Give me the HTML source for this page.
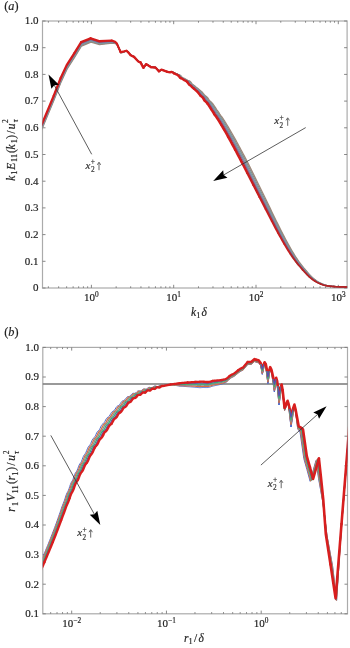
<!DOCTYPE html>
<html><head><meta charset="utf-8"><style>
html,body{margin:0;padding:0;background:#fff;width:350px;height:648px;overflow:hidden}
svg{display:block;will-change:transform}
text{stroke:#1e1e1e;stroke-width:0.18px;paint-order:stroke}
</style></head><body>
<svg width="350" height="648" viewBox="0 0 350 648">
<rect width="350" height="648" fill="#fff"/>
<defs><clipPath id="ca"><rect x="42.5" y="21.0" width="304.6" height="267.0"/></clipPath><clipPath id="cb"><rect x="42.8" y="347.4" width="304.7" height="266.4"/></clipPath></defs>
<rect x="42.50" y="21.00" width="304.60" height="267.00" fill="none" stroke="#ababab" stroke-width="1.2"/>
<path d="M42.50,288.00h3M347.10,288.00h-3" stroke="#7a7a7a" stroke-width="0.9"/>
<path d="M42.50,261.30h3M347.10,261.30h-3" stroke="#7a7a7a" stroke-width="0.9"/>
<path d="M42.50,234.60h3M347.10,234.60h-3" stroke="#7a7a7a" stroke-width="0.9"/>
<path d="M42.50,207.90h3M347.10,207.90h-3" stroke="#7a7a7a" stroke-width="0.9"/>
<path d="M42.50,181.20h3M347.10,181.20h-3" stroke="#7a7a7a" stroke-width="0.9"/>
<path d="M42.50,154.50h3M347.10,154.50h-3" stroke="#7a7a7a" stroke-width="0.9"/>
<path d="M42.50,127.80h3M347.10,127.80h-3" stroke="#7a7a7a" stroke-width="0.9"/>
<path d="M42.50,101.10h3M347.10,101.10h-3" stroke="#7a7a7a" stroke-width="0.9"/>
<path d="M42.50,74.40h3M347.10,74.40h-3" stroke="#7a7a7a" stroke-width="0.9"/>
<path d="M42.50,47.70h3M347.10,47.70h-3" stroke="#7a7a7a" stroke-width="0.9"/>
<path d="M42.50,21.00h3M347.10,21.00h-3" stroke="#7a7a7a" stroke-width="0.9"/>
<path d="M48.37,288.00v-1.7M48.37,21.00v1.7" stroke="#7a7a7a" stroke-width="0.9"/>
<path d="M58.65,288.00v-1.7M58.65,21.00v1.7" stroke="#7a7a7a" stroke-width="0.9"/>
<path d="M66.63,288.00v-1.7M66.63,21.00v1.7" stroke="#7a7a7a" stroke-width="0.9"/>
<path d="M73.14,288.00v-1.7M73.14,21.00v1.7" stroke="#7a7a7a" stroke-width="0.9"/>
<path d="M78.65,288.00v-1.7M78.65,21.00v1.7" stroke="#7a7a7a" stroke-width="0.9"/>
<path d="M83.42,288.00v-1.7M83.42,21.00v1.7" stroke="#7a7a7a" stroke-width="0.9"/>
<path d="M87.63,288.00v-1.7M87.63,21.00v1.7" stroke="#7a7a7a" stroke-width="0.9"/>
<path d="M91.40,288.00v-3.2M91.40,21.00v3.2" stroke="#7a7a7a" stroke-width="0.9"/>
<path d="M116.17,288.00v-1.7M116.17,21.00v1.7" stroke="#7a7a7a" stroke-width="0.9"/>
<path d="M130.67,288.00v-1.7M130.67,21.00v1.7" stroke="#7a7a7a" stroke-width="0.9"/>
<path d="M140.95,288.00v-1.7M140.95,21.00v1.7" stroke="#7a7a7a" stroke-width="0.9"/>
<path d="M148.93,288.00v-1.7M148.93,21.00v1.7" stroke="#7a7a7a" stroke-width="0.9"/>
<path d="M155.44,288.00v-1.7M155.44,21.00v1.7" stroke="#7a7a7a" stroke-width="0.9"/>
<path d="M160.95,288.00v-1.7M160.95,21.00v1.7" stroke="#7a7a7a" stroke-width="0.9"/>
<path d="M165.72,288.00v-1.7M165.72,21.00v1.7" stroke="#7a7a7a" stroke-width="0.9"/>
<path d="M169.93,288.00v-1.7M169.93,21.00v1.7" stroke="#7a7a7a" stroke-width="0.9"/>
<path d="M173.70,288.00v-3.2M173.70,21.00v3.2" stroke="#7a7a7a" stroke-width="0.9"/>
<path d="M198.47,288.00v-1.7M198.47,21.00v1.7" stroke="#7a7a7a" stroke-width="0.9"/>
<path d="M212.97,288.00v-1.7M212.97,21.00v1.7" stroke="#7a7a7a" stroke-width="0.9"/>
<path d="M223.25,288.00v-1.7M223.25,21.00v1.7" stroke="#7a7a7a" stroke-width="0.9"/>
<path d="M231.23,288.00v-1.7M231.23,21.00v1.7" stroke="#7a7a7a" stroke-width="0.9"/>
<path d="M237.74,288.00v-1.7M237.74,21.00v1.7" stroke="#7a7a7a" stroke-width="0.9"/>
<path d="M243.25,288.00v-1.7M243.25,21.00v1.7" stroke="#7a7a7a" stroke-width="0.9"/>
<path d="M248.02,288.00v-1.7M248.02,21.00v1.7" stroke="#7a7a7a" stroke-width="0.9"/>
<path d="M252.23,288.00v-1.7M252.23,21.00v1.7" stroke="#7a7a7a" stroke-width="0.9"/>
<path d="M256.00,288.00v-3.2M256.00,21.00v3.2" stroke="#7a7a7a" stroke-width="0.9"/>
<path d="M280.77,288.00v-1.7M280.77,21.00v1.7" stroke="#7a7a7a" stroke-width="0.9"/>
<path d="M295.27,288.00v-1.7M295.27,21.00v1.7" stroke="#7a7a7a" stroke-width="0.9"/>
<path d="M305.55,288.00v-1.7M305.55,21.00v1.7" stroke="#7a7a7a" stroke-width="0.9"/>
<path d="M313.53,288.00v-1.7M313.53,21.00v1.7" stroke="#7a7a7a" stroke-width="0.9"/>
<path d="M320.04,288.00v-1.7M320.04,21.00v1.7" stroke="#7a7a7a" stroke-width="0.9"/>
<path d="M325.55,288.00v-1.7M325.55,21.00v1.7" stroke="#7a7a7a" stroke-width="0.9"/>
<path d="M330.32,288.00v-1.7M330.32,21.00v1.7" stroke="#7a7a7a" stroke-width="0.9"/>
<path d="M334.53,288.00v-1.7M334.53,21.00v1.7" stroke="#7a7a7a" stroke-width="0.9"/>
<path d="M338.30,288.00v-3.2M338.30,21.00v3.2" stroke="#7a7a7a" stroke-width="0.9"/>
<text x="38.60" y="291.30" font-size="11" fill="#1e1e1e" text-anchor="end" style="font-family:'Liberation Serif',serif;">0</text>
<text x="38.60" y="264.60" font-size="11" fill="#1e1e1e" text-anchor="end" style="font-family:'Liberation Serif',serif;">0.1</text>
<text x="38.60" y="237.90" font-size="11" fill="#1e1e1e" text-anchor="end" style="font-family:'Liberation Serif',serif;">0.2</text>
<text x="38.60" y="211.20" font-size="11" fill="#1e1e1e" text-anchor="end" style="font-family:'Liberation Serif',serif;">0.3</text>
<text x="38.60" y="184.50" font-size="11" fill="#1e1e1e" text-anchor="end" style="font-family:'Liberation Serif',serif;">0.4</text>
<text x="38.60" y="157.80" font-size="11" fill="#1e1e1e" text-anchor="end" style="font-family:'Liberation Serif',serif;">0.5</text>
<text x="38.60" y="131.10" font-size="11" fill="#1e1e1e" text-anchor="end" style="font-family:'Liberation Serif',serif;">0.6</text>
<text x="38.60" y="104.40" font-size="11" fill="#1e1e1e" text-anchor="end" style="font-family:'Liberation Serif',serif;">0.7</text>
<text x="38.60" y="77.70" font-size="11" fill="#1e1e1e" text-anchor="end" style="font-family:'Liberation Serif',serif;">0.8</text>
<text x="38.60" y="51.00" font-size="11" fill="#1e1e1e" text-anchor="end" style="font-family:'Liberation Serif',serif;">0.9</text>
<text x="38.60" y="24.30" font-size="11" fill="#1e1e1e" text-anchor="end" style="font-family:'Liberation Serif',serif;">1.0</text>
<text x="91.40" y="301.00" text-anchor="middle" font-size="11" fill="#1e1e1e" style="font-family:'Liberation Serif',serif;">10<tspan dy="-3.9" font-size="7.3">0</tspan></text>
<text x="173.70" y="301.00" text-anchor="middle" font-size="11" fill="#1e1e1e" style="font-family:'Liberation Serif',serif;">10<tspan dy="-3.9" font-size="7.3">1</tspan></text>
<text x="256.00" y="301.00" text-anchor="middle" font-size="11" fill="#1e1e1e" style="font-family:'Liberation Serif',serif;">10<tspan dy="-3.9" font-size="7.3">2</tspan></text>
<text x="338.30" y="301.00" text-anchor="middle" font-size="11" fill="#1e1e1e" style="font-family:'Liberation Serif',serif;">10<tspan dy="-3.9" font-size="7.3">3</tspan></text>
<rect x="42.80" y="347.40" width="304.70" height="266.40" fill="none" stroke="#ababab" stroke-width="1.2"/>
<path d="M42.80,613.80h3M347.50,613.80h-3" stroke="#7a7a7a" stroke-width="0.9"/>
<path d="M42.80,584.20h3M347.50,584.20h-3" stroke="#7a7a7a" stroke-width="0.9"/>
<path d="M42.80,554.60h3M347.50,554.60h-3" stroke="#7a7a7a" stroke-width="0.9"/>
<path d="M42.80,525.00h3M347.50,525.00h-3" stroke="#7a7a7a" stroke-width="0.9"/>
<path d="M42.80,495.40h3M347.50,495.40h-3" stroke="#7a7a7a" stroke-width="0.9"/>
<path d="M42.80,465.80h3M347.50,465.80h-3" stroke="#7a7a7a" stroke-width="0.9"/>
<path d="M42.80,436.20h3M347.50,436.20h-3" stroke="#7a7a7a" stroke-width="0.9"/>
<path d="M42.80,406.60h3M347.50,406.60h-3" stroke="#7a7a7a" stroke-width="0.9"/>
<path d="M42.80,377.00h3M347.50,377.00h-3" stroke="#7a7a7a" stroke-width="0.9"/>
<path d="M42.80,347.40h3M347.50,347.40h-3" stroke="#7a7a7a" stroke-width="0.9"/>
<path d="M50.68,613.80v-1.7M50.68,347.40v1.7" stroke="#7a7a7a" stroke-width="0.9"/>
<path d="M57.02,613.80v-1.7M57.02,347.40v1.7" stroke="#7a7a7a" stroke-width="0.9"/>
<path d="M62.52,613.80v-1.7M62.52,347.40v1.7" stroke="#7a7a7a" stroke-width="0.9"/>
<path d="M67.36,613.80v-1.7M67.36,347.40v1.7" stroke="#7a7a7a" stroke-width="0.9"/>
<path d="M71.70,613.80v-3.2M71.70,347.40v3.2" stroke="#7a7a7a" stroke-width="0.9"/>
<path d="M100.22,613.80v-1.7M100.22,347.40v1.7" stroke="#7a7a7a" stroke-width="0.9"/>
<path d="M116.91,613.80v-1.7M116.91,347.40v1.7" stroke="#7a7a7a" stroke-width="0.9"/>
<path d="M128.75,613.80v-1.7M128.75,347.40v1.7" stroke="#7a7a7a" stroke-width="0.9"/>
<path d="M137.93,613.80v-1.7M137.93,347.40v1.7" stroke="#7a7a7a" stroke-width="0.9"/>
<path d="M145.43,613.80v-1.7M145.43,347.40v1.7" stroke="#7a7a7a" stroke-width="0.9"/>
<path d="M151.77,613.80v-1.7M151.77,347.40v1.7" stroke="#7a7a7a" stroke-width="0.9"/>
<path d="M157.27,613.80v-1.7M157.27,347.40v1.7" stroke="#7a7a7a" stroke-width="0.9"/>
<path d="M162.11,613.80v-1.7M162.11,347.40v1.7" stroke="#7a7a7a" stroke-width="0.9"/>
<path d="M166.45,613.80v-3.2M166.45,347.40v3.2" stroke="#7a7a7a" stroke-width="0.9"/>
<path d="M194.97,613.80v-1.7M194.97,347.40v1.7" stroke="#7a7a7a" stroke-width="0.9"/>
<path d="M211.66,613.80v-1.7M211.66,347.40v1.7" stroke="#7a7a7a" stroke-width="0.9"/>
<path d="M223.50,613.80v-1.7M223.50,347.40v1.7" stroke="#7a7a7a" stroke-width="0.9"/>
<path d="M232.68,613.80v-1.7M232.68,347.40v1.7" stroke="#7a7a7a" stroke-width="0.9"/>
<path d="M240.18,613.80v-1.7M240.18,347.40v1.7" stroke="#7a7a7a" stroke-width="0.9"/>
<path d="M246.52,613.80v-1.7M246.52,347.40v1.7" stroke="#7a7a7a" stroke-width="0.9"/>
<path d="M252.02,613.80v-1.7M252.02,347.40v1.7" stroke="#7a7a7a" stroke-width="0.9"/>
<path d="M256.86,613.80v-1.7M256.86,347.40v1.7" stroke="#7a7a7a" stroke-width="0.9"/>
<path d="M261.20,613.80v-3.2M261.20,347.40v3.2" stroke="#7a7a7a" stroke-width="0.9"/>
<path d="M289.72,613.80v-1.7M289.72,347.40v1.7" stroke="#7a7a7a" stroke-width="0.9"/>
<path d="M306.41,613.80v-1.7M306.41,347.40v1.7" stroke="#7a7a7a" stroke-width="0.9"/>
<path d="M318.25,613.80v-1.7M318.25,347.40v1.7" stroke="#7a7a7a" stroke-width="0.9"/>
<path d="M327.43,613.80v-1.7M327.43,347.40v1.7" stroke="#7a7a7a" stroke-width="0.9"/>
<path d="M334.93,613.80v-1.7M334.93,347.40v1.7" stroke="#7a7a7a" stroke-width="0.9"/>
<path d="M341.27,613.80v-1.7M341.27,347.40v1.7" stroke="#7a7a7a" stroke-width="0.9"/>
<text x="38.90" y="617.10" font-size="11" fill="#1e1e1e" text-anchor="end" style="font-family:'Liberation Serif',serif;">0.1</text>
<text x="38.90" y="587.50" font-size="11" fill="#1e1e1e" text-anchor="end" style="font-family:'Liberation Serif',serif;">0.2</text>
<text x="38.90" y="557.90" font-size="11" fill="#1e1e1e" text-anchor="end" style="font-family:'Liberation Serif',serif;">0.3</text>
<text x="38.90" y="528.30" font-size="11" fill="#1e1e1e" text-anchor="end" style="font-family:'Liberation Serif',serif;">0.4</text>
<text x="38.90" y="498.70" font-size="11" fill="#1e1e1e" text-anchor="end" style="font-family:'Liberation Serif',serif;">0.5</text>
<text x="38.90" y="469.10" font-size="11" fill="#1e1e1e" text-anchor="end" style="font-family:'Liberation Serif',serif;">0.6</text>
<text x="38.90" y="439.50" font-size="11" fill="#1e1e1e" text-anchor="end" style="font-family:'Liberation Serif',serif;">0.7</text>
<text x="38.90" y="409.90" font-size="11" fill="#1e1e1e" text-anchor="end" style="font-family:'Liberation Serif',serif;">0.8</text>
<text x="38.90" y="380.30" font-size="11" fill="#1e1e1e" text-anchor="end" style="font-family:'Liberation Serif',serif;">0.9</text>
<text x="38.90" y="350.70" font-size="11" fill="#1e1e1e" text-anchor="end" style="font-family:'Liberation Serif',serif;">1.0</text>
<text x="71.70" y="626.80" text-anchor="middle" font-size="11" fill="#1e1e1e" style="font-family:'Liberation Serif',serif;">10<tspan dy="-3.9" font-size="7.3">−2</tspan></text>
<text x="166.45" y="626.80" text-anchor="middle" font-size="11" fill="#1e1e1e" style="font-family:'Liberation Serif',serif;">10<tspan dy="-3.9" font-size="7.3">−1</tspan></text>
<text x="261.20" y="626.80" text-anchor="middle" font-size="11" fill="#1e1e1e" style="font-family:'Liberation Serif',serif;">10<tspan dy="-3.9" font-size="7.3">0</tspan></text>
<line x1="42.8" y1="383.9" x2="347.5" y2="383.9" stroke="#777" stroke-width="1.5"/>
<path d="M38.40,137.20 L43.00,126.58 L54.10,99.74 L61.00,82.11 L67.00,69.19 L74.70,57.16 L81.50,46.03 L91.00,42.17 L99.50,44.65 L112.10,43.08 L115.50,43.52 L117.30,44.88 L121.00,52.88 L123.30,52.29 L126.70,51.01 L128.40,52.27 L131.00,55.20 L134.40,56.90 L138.70,61.50 L140.90,62.40 L143.80,67.90 L146.40,64.10 L151.50,67.20 L155.80,67.50 L159.30,71.30 L161.80,69.60 L167.80,71.80 L170.92,72.40 L172.48,71.87 L173.56,72.35 L174.64,72.84 L175.72,73.41 L176.83,73.79 L177.89,74.28 L178.96,74.56 L180.02,75.18 L181.08,76.07 L182.15,77.29 L183.21,78.07 L184.28,78.40 L185.34,79.03 L186.40,79.65 L187.50,80.28 L188.57,80.67 L189.62,81.07 L190.67,81.95 L191.71,83.42 L192.76,84.68 L193.80,85.21 L194.84,85.93 L195.89,87.09 L196.94,87.83 L197.98,88.58 L199.03,89.48 L200.07,90.34 L201.12,91.15 L202.16,92.07 L203.23,93.40 L204.29,94.64 L205.34,95.81 L206.37,96.54 L207.40,97.38 L208.43,98.97 L209.45,100.54 L210.48,101.42 L211.51,102.32 L212.54,103.48 L213.57,104.85 L214.59,106.31 L215.62,107.83 L216.65,109.56 L217.68,110.90 L218.73,112.40 L219.79,114.08 L220.83,115.53 L221.84,116.86 L222.85,118.39 L223.85,119.96 L224.86,121.47 L225.86,123.07 L226.87,124.77 L227.88,126.43 L228.88,128.12 L229.89,129.82 L230.89,131.55 L231.90,133.29 L232.90,135.05 L233.91,136.83 L234.92,138.62 L235.92,140.43 L236.93,142.26 L237.93,144.10 L238.94,145.95 L239.95,147.82 L240.95,149.70 L241.96,151.59 L242.96,153.49 L243.99,155.41 L245.02,157.33 L246.05,159.27 L247.03,161.21 L248.01,163.16 L249.00,165.12 L249.98,167.08 L250.96,169.05 L251.94,171.03 L252.92,173.01 L253.91,175.00 L254.89,176.99 L255.87,178.98 L256.85,180.98 L257.83,182.98 L258.82,184.99 L259.80,187.00 L260.78,189.01 L261.76,191.02 L262.74,193.03 L263.73,195.05 L264.72,197.06 L265.70,199.08 L266.68,201.10 L267.65,203.11 L268.62,205.13 L269.60,207.14 L270.57,209.15 L271.55,211.16 L272.52,213.17 L273.49,215.18 L274.47,217.18 L275.44,219.17 L276.41,221.16 L277.39,223.14 L278.36,225.11 L279.34,227.07 L280.31,229.01 L281.28,230.94 L282.26,232.86 L283.24,234.75 L284.22,236.62 L285.19,238.48 L286.15,240.31 L287.12,242.11 L288.08,243.89 L289.05,245.64 L290.01,247.36 L290.98,249.05 L291.94,250.71 L292.91,252.33 L293.87,253.92 L294.84,255.47 L295.81,256.98 L296.77,258.46 L297.74,259.89 L298.70,261.27 L299.67,262.60 L300.63,263.89 L301.60,265.14 L302.56,266.36 L303.52,267.55 L304.50,268.71 L305.47,269.86 L306.44,271.03 L307.42,272.18 L308.39,273.31 L309.37,274.41 L310.34,275.46 L311.31,276.45 L312.29,277.36 L313.26,278.20 L314.23,279.00 L315.21,279.77 L316.18,280.51 L317.15,281.19 L318.13,281.82 L319.10,282.39 L320.08,282.90 L321.05,283.37 L322.02,283.82 L323.00,284.23 L323.97,284.61 L324.95,284.95 L325.92,285.22 L326.89,285.44 L327.87,285.62 L328.84,285.79 L329.81,285.95 L330.79,286.09 L331.76,286.22 L332.74,286.33 L333.71,286.43 L334.68,286.51 L335.66,286.58 L336.63,286.63 L337.60,286.68 L338.58,286.72 L339.55,286.76 L340.52,286.80 L341.50,286.83 L342.48,286.86 L343.47,286.89 L344.45,286.91 L345.43,286.94 L346.41,286.96 L347.40,286.99 L348.38,287.01 L349.36,287.04 L350.34,287.06 L351.33,287.08 L352.31,287.10" fill="none" stroke="#a08878" stroke-width="1.3" stroke-linejoin="round" clip-path="url(#ca)"/>
<path d="M38.32,136.36 L42.92,125.75 L54.02,98.91 L60.92,81.29 L66.92,68.37 L74.62,56.35 L81.42,45.23 L90.92,41.38 L99.42,43.94 L112.02,42.56 L115.42,43.18 L117.22,44.62 L120.92,52.73 L123.22,52.17 L126.62,50.95 L128.32,52.23 L130.92,55.20 L134.32,56.90 L138.62,61.50 L140.82,62.40 L143.72,67.90 L146.32,64.10 L151.42,67.20 L155.72,67.50 L159.22,71.30 L161.72,69.60 L167.72,71.80 L170.76,72.40 L172.26,71.87 L173.31,72.35 L174.35,72.84 L175.40,73.41 L176.47,73.79 L177.50,74.28 L178.54,74.56 L179.58,75.18 L180.61,76.07 L181.65,77.29 L182.68,78.07 L183.72,78.40 L184.76,79.03 L185.79,79.65 L186.86,80.28 L187.91,80.67 L188.94,81.07 L189.96,81.95 L190.99,83.42 L192.01,84.68 L193.04,85.21 L194.07,85.93 L195.09,87.09 L196.12,87.83 L197.14,88.58 L198.17,89.48 L199.20,90.34 L200.22,91.15 L201.25,92.07 L202.30,93.40 L203.34,94.64 L204.37,95.81 L205.39,96.54 L206.41,97.38 L207.42,98.97 L208.44,100.54 L209.46,101.42 L210.47,102.32 L211.49,103.48 L212.51,104.85 L213.52,106.31 L214.54,107.83 L215.56,109.56 L216.57,110.90 L217.61,112.40 L218.66,114.08 L219.69,115.53 L220.70,116.86 L221.70,118.39 L222.70,119.96 L223.71,121.47 L224.71,123.07 L225.71,124.77 L226.72,126.43 L227.72,128.12 L228.73,129.82 L229.73,131.55 L230.73,133.29 L231.74,135.05 L232.74,136.83 L233.74,138.62 L234.75,140.43 L235.75,142.26 L236.75,144.10 L237.76,145.95 L238.76,147.82 L239.76,149.70 L240.77,151.59 L241.77,153.49 L242.80,155.41 L243.83,157.33 L244.85,159.27 L245.84,161.21 L246.83,163.16 L247.82,165.12 L248.81,167.08 L249.80,169.05 L250.79,171.03 L251.77,173.01 L252.76,175.00 L253.75,176.99 L254.74,178.98 L255.73,180.98 L256.72,182.98 L257.71,184.99 L258.70,187.00 L259.69,189.01 L260.68,191.02 L261.66,193.03 L262.66,195.05 L263.66,197.06 L264.65,199.08 L265.63,201.10 L266.62,203.11 L267.60,205.13 L268.58,207.14 L269.57,209.15 L270.55,211.16 L271.54,213.17 L272.52,215.18 L273.50,217.18 L274.49,219.17 L275.47,221.16 L276.46,223.14 L277.44,225.11 L278.42,227.07 L279.41,229.01 L280.39,230.94 L281.38,232.86 L282.37,234.75 L283.36,236.62 L284.34,238.48 L285.32,240.31 L286.30,242.11 L287.27,243.89 L288.25,245.64 L289.23,247.36 L290.21,249.05 L291.19,250.71 L292.17,252.33 L293.15,253.92 L294.13,255.47 L295.11,256.98 L296.08,258.46 L297.06,259.89 L298.04,261.27 L299.02,262.60 L300.00,263.89 L300.98,265.14 L301.95,266.36 L302.93,267.55 L303.91,268.71 L304.90,269.86 L305.88,271.03 L306.86,272.18 L307.85,273.31 L308.83,274.41 L309.82,275.46 L310.80,276.45 L311.78,277.36 L312.77,278.20 L313.75,279.00 L314.74,279.77 L315.72,280.51 L316.70,281.19 L317.69,281.82 L318.67,282.39 L319.66,282.90 L320.64,283.37 L321.62,283.82 L322.61,284.23 L323.59,284.61 L324.58,284.95 L325.56,285.22 L326.54,285.44 L327.53,285.62 L328.51,285.79 L329.50,285.95 L330.48,286.09 L331.46,286.22 L332.45,286.33 L333.43,286.43 L334.42,286.51 L335.40,286.58 L336.38,286.63 L337.37,286.68 L338.35,286.72 L339.34,286.76 L340.32,286.80 L341.30,286.83 L342.29,286.86 L343.28,286.89 L344.27,286.91 L345.26,286.94 L346.25,286.96 L347.24,286.99 L348.23,287.01 L349.22,287.04 L350.21,287.06 L351.20,287.08 L352.19,287.10" fill="none" stroke="#8a8a8a" stroke-width="1.4" stroke-linejoin="round" clip-path="url(#ca)"/>
<path d="M38.24,135.52 L42.84,124.91 L53.94,98.08 L60.84,80.47 L66.84,67.55 L74.54,55.54 L81.34,44.42 L90.84,40.58 L99.34,43.23 L111.94,42.05 L115.34,42.84 L117.14,44.37 L120.84,52.57 L123.14,52.05 L126.54,50.89 L128.24,52.20 L130.84,55.20 L134.24,56.90 L138.54,61.50 L140.74,62.40 L143.64,67.90 L146.24,64.10 L151.34,67.20 L155.64,67.50 L159.14,71.30 L161.64,69.60 L167.64,71.80 L170.59,72.40 L172.05,71.87 L173.06,72.35 L174.06,72.84 L175.07,73.41 L176.11,73.79 L177.12,74.28 L178.12,74.56 L179.13,75.18 L180.14,76.07 L181.15,77.29 L182.16,78.07 L183.16,78.40 L184.17,79.03 L185.18,79.65 L186.22,80.28 L187.25,80.67 L188.25,81.07 L189.26,81.95 L190.27,83.42 L191.27,84.68 L192.28,85.21 L193.29,85.93 L194.29,87.09 L195.30,87.83 L196.31,88.58 L197.31,89.48 L198.32,90.34 L199.33,91.15 L200.34,92.07 L201.36,93.40 L202.39,94.64 L203.41,95.81 L204.41,96.54 L205.42,97.38 L206.42,98.97 L207.43,100.54 L208.43,101.42 L209.44,102.32 L210.44,103.48 L211.45,104.85 L212.45,106.31 L213.46,107.83 L214.46,109.56 L215.47,110.90 L216.50,112.40 L217.53,114.08 L218.55,115.53 L219.55,116.86 L220.56,118.39 L221.56,119.96 L222.56,121.47 L223.56,123.07 L224.56,124.77 L225.56,126.43 L226.56,128.12 L227.56,129.82 L228.56,131.55 L229.57,133.29 L230.57,135.05 L231.57,136.83 L232.57,138.62 L233.57,140.43 L234.57,142.26 L235.57,144.10 L236.57,145.95 L237.57,147.82 L238.58,149.70 L239.58,151.59 L240.58,153.49 L241.60,155.41 L242.63,157.33 L243.65,159.27 L244.65,161.21 L245.64,163.16 L246.64,165.12 L247.64,167.08 L248.63,169.05 L249.63,171.03 L250.62,173.01 L251.62,175.00 L252.62,176.99 L253.61,178.98 L254.61,180.98 L255.60,182.98 L256.60,184.99 L257.60,187.00 L258.59,189.01 L259.59,191.02 L260.59,193.03 L261.59,195.05 L262.59,197.06 L263.59,199.08 L264.59,201.10 L265.58,203.11 L266.57,205.13 L267.57,207.14 L268.56,209.15 L269.56,211.16 L270.55,213.17 L271.55,215.18 L272.54,217.18 L273.53,219.17 L274.53,221.16 L275.52,223.14 L276.52,225.11 L277.51,227.07 L278.51,229.01 L279.50,230.94 L280.49,232.86 L281.50,234.75 L282.50,236.62 L283.49,238.48 L284.48,240.31 L285.48,242.11 L286.47,243.89 L287.46,245.64 L288.45,247.36 L289.44,249.05 L290.44,250.71 L291.43,252.33 L292.42,253.92 L293.41,255.47 L294.41,256.98 L295.40,258.46 L296.39,259.89 L297.38,261.27 L298.37,262.60 L299.37,263.89 L300.36,265.14 L301.34,266.36 L302.33,267.55 L303.33,268.71 L304.32,269.86 L305.32,271.03 L306.31,272.18 L307.30,273.31 L308.30,274.41 L309.29,275.46 L310.29,276.45 L311.28,277.36 L312.28,278.20 L313.27,279.00 L314.26,279.77 L315.26,280.51 L316.25,281.19 L317.25,281.82 L318.24,282.39 L319.24,282.90 L320.23,283.37 L321.22,283.82 L322.22,284.23 L323.21,284.61 L324.21,284.95 L325.20,285.22 L326.20,285.44 L327.19,285.62 L328.18,285.79 L329.18,285.95 L330.17,286.09 L331.17,286.22 L332.16,286.33 L333.16,286.43 L334.15,286.51 L335.14,286.58 L336.14,286.63 L337.13,286.68 L338.13,286.72 L339.12,286.76 L340.12,286.80 L341.11,286.83 L342.10,286.86 L343.10,286.89 L344.10,286.91 L345.09,286.94 L346.09,286.96 L347.08,286.99 L348.08,287.01 L349.08,287.04 L350.07,287.06 L351.07,287.08 L352.07,287.10" fill="none" stroke="#78a0a0" stroke-width="1.4" stroke-linejoin="round" clip-path="url(#ca)"/>
<path d="M38.16,134.68 L42.76,124.07 L53.86,97.26 L60.76,79.65 L66.76,66.74 L74.46,54.72 L81.26,43.61 L90.76,39.79 L99.26,42.52 L111.86,41.53 L115.26,42.49 L117.06,44.11 L120.76,52.41 L123.06,51.94 L126.46,50.82 L128.16,52.17 L130.76,55.20 L134.16,56.90 L138.46,61.50 L140.66,62.40 L143.56,67.90 L146.16,64.10 L151.26,67.20 L155.56,67.50 L159.06,71.30 L161.56,69.60 L167.56,71.80 L170.43,72.40 L171.83,71.87 L172.80,72.35 L173.78,72.84 L174.75,73.41 L175.75,73.79 L176.73,74.28 L177.71,74.56 L178.69,75.18 L179.67,76.07 L180.65,77.29 L181.63,78.07 L182.61,78.40 L183.59,79.03 L184.57,79.65 L185.58,80.28 L186.58,80.67 L187.57,81.07 L188.56,81.95 L189.54,83.42 L190.53,84.68 L191.52,85.21 L192.51,85.93 L193.50,87.09 L194.48,87.83 L195.47,88.58 L196.46,89.48 L197.45,90.34 L198.44,91.15 L199.42,92.07 L200.43,93.40 L201.44,94.64 L202.44,95.81 L203.44,96.54 L204.43,97.38 L205.42,98.97 L206.42,100.54 L207.41,101.42 L208.40,102.32 L209.40,103.48 L210.39,104.85 L211.38,106.31 L212.38,107.83 L213.37,109.56 L214.36,110.90 L215.38,112.40 L216.40,114.08 L217.41,115.53 L218.41,116.86 L219.41,118.39 L220.41,119.96 L221.41,121.47 L222.41,123.07 L223.41,124.77 L224.40,126.43 L225.40,128.12 L226.40,129.82 L227.40,131.55 L228.40,133.29 L229.40,135.05 L230.40,136.83 L231.40,138.62 L232.39,140.43 L233.39,142.26 L234.39,144.10 L235.39,145.95 L236.39,147.82 L237.39,149.70 L238.39,151.59 L239.39,153.49 L240.41,155.41 L241.43,157.33 L242.45,159.27 L243.46,161.21 L244.46,163.16 L245.46,165.12 L246.46,167.08 L247.47,169.05 L248.47,171.03 L249.47,173.01 L250.48,175.00 L251.48,176.99 L252.48,178.98 L253.49,180.98 L254.49,182.98 L255.49,184.99 L256.50,187.00 L257.50,189.01 L258.50,191.02 L259.51,193.03 L260.52,195.05 L261.53,197.06 L262.54,199.08 L263.54,201.10 L264.55,203.11 L265.55,205.13 L266.55,207.14 L267.56,209.15 L268.56,211.16 L269.57,213.17 L270.57,215.18 L271.58,217.18 L272.58,219.17 L273.59,221.16 L274.59,223.14 L275.60,225.11 L276.60,227.07 L277.60,229.01 L278.61,230.94 L279.61,232.86 L280.62,234.75 L281.64,236.62 L282.64,238.48 L283.65,240.31 L284.65,242.11 L285.66,243.89 L286.67,245.64 L287.67,247.36 L288.68,249.05 L289.68,250.71 L290.69,252.33 L291.69,253.92 L292.70,255.47 L293.71,256.98 L294.71,258.46 L295.72,259.89 L296.72,261.27 L297.73,262.60 L298.73,263.89 L299.74,265.14 L300.74,266.36 L301.74,267.55 L302.74,268.71 L303.75,269.86 L304.75,271.03 L305.76,272.18 L306.76,273.31 L307.77,274.41 L308.77,275.46 L309.77,276.45 L310.78,277.36 L311.78,278.20 L312.79,279.00 L313.79,279.77 L314.80,280.51 L315.80,281.19 L316.81,281.82 L317.81,282.39 L318.82,282.90 L319.82,283.37 L320.82,283.82 L321.83,284.23 L322.83,284.61 L323.84,284.95 L324.84,285.22 L325.85,285.44 L326.85,285.62 L327.86,285.79 L328.86,285.95 L329.87,286.09 L330.87,286.22 L331.87,286.33 L332.88,286.43 L333.88,286.51 L334.89,286.58 L335.89,286.63 L336.90,286.68 L337.90,286.72 L338.91,286.76 L339.91,286.80 L340.91,286.83 L341.91,286.86 L342.92,286.89 L343.92,286.91 L344.92,286.94 L345.93,286.96 L346.93,286.99 L347.93,287.01 L348.93,287.04 L349.94,287.06 L350.94,287.08 L351.94,287.10" fill="none" stroke="#7c78a8" stroke-width="1.4" stroke-linejoin="round" clip-path="url(#ca)"/>
<path d="M38.08,133.84 L42.68,123.24 L53.78,96.43 L60.68,78.82 L66.68,65.92 L74.38,53.91 L81.18,42.81 L90.68,38.99 L99.18,41.81 L111.78,41.02 L115.18,42.14 L116.98,43.86 L120.68,52.26 L122.98,51.82 L126.38,50.76 L128.08,52.13 L130.68,55.20 L134.08,56.90 L138.38,61.50 L140.58,62.40 L143.48,67.90 L146.08,64.10 L151.18,67.20 L155.48,67.50 L158.98,71.30 L161.48,69.60 L167.48,71.80 L170.26,72.40 L171.62,71.87 L172.55,72.35 L173.49,72.84 L174.42,73.41 L175.39,73.79 L176.34,74.28 L177.29,74.56 L178.24,75.18 L179.20,76.07 L180.15,77.29 L181.10,78.07 L182.06,78.40 L183.01,79.03 L183.96,79.65 L184.94,80.28 L185.91,80.67 L186.88,81.07 L187.85,81.95 L188.82,83.42 L189.79,84.68 L190.76,85.21 L191.73,85.93 L192.70,87.09 L193.67,87.83 L194.64,88.58 L195.60,89.48 L196.57,90.34 L197.54,91.15 L198.51,92.07 L199.50,93.40 L200.49,94.64 L201.48,95.81 L202.46,96.54 L203.44,97.38 L204.42,98.97 L205.40,100.54 L206.38,101.42 L207.37,102.32 L208.35,103.48 L209.33,104.85 L210.31,106.31 L211.29,107.83 L212.27,109.56 L213.26,110.90 L214.26,112.40 L215.27,114.08 L216.27,115.53 L217.27,116.86 L218.27,118.39 L219.26,119.96 L220.26,121.47 L221.25,123.07 L222.25,124.77 L223.25,126.43 L224.24,128.12 L225.24,129.82 L226.24,131.55 L227.23,133.29 L228.23,135.05 L229.23,136.83 L230.22,138.62 L231.22,140.43 L232.21,142.26 L233.21,144.10 L234.21,145.95 L235.20,147.82 L236.20,149.70 L237.20,151.59 L238.19,153.49 L239.21,155.41 L240.23,157.33 L241.25,159.27 L242.26,161.21 L243.27,163.16 L244.28,165.12 L245.29,167.08 L246.30,169.05 L247.31,171.03 L248.32,173.01 L249.34,175.00 L250.35,176.99 L251.36,178.98 L252.37,180.98 L253.38,182.98 L254.39,184.99 L255.40,187.00 L256.41,189.01 L257.42,191.02 L258.43,193.03 L259.45,195.05 L260.46,197.06 L261.48,199.08 L262.50,201.10 L263.51,203.11 L264.52,205.13 L265.54,207.14 L266.55,209.15 L267.57,211.16 L268.58,213.17 L269.60,215.18 L270.61,217.18 L271.63,219.17 L272.64,221.16 L273.66,223.14 L274.67,225.11 L275.69,227.07 L276.70,229.01 L277.72,230.94 L278.73,232.86 L279.75,234.75 L280.78,236.62 L281.80,238.48 L282.81,240.31 L283.83,242.11 L284.85,243.89 L285.87,245.64 L286.89,247.36 L287.91,249.05 L288.93,250.71 L289.95,252.33 L290.97,253.92 L291.99,255.47 L293.01,256.98 L294.02,258.46 L295.04,259.89 L296.06,261.27 L297.08,262.60 L298.10,263.89 L299.12,265.14 L300.13,266.36 L301.14,267.55 L302.16,268.71 L303.17,269.86 L304.19,271.03 L305.20,272.18 L306.22,273.31 L307.23,274.41 L308.25,275.46 L309.26,276.45 L310.28,277.36 L311.29,278.20 L312.31,279.00 L313.32,279.77 L314.34,280.51 L315.35,281.19 L316.37,281.82 L317.38,282.39 L318.40,282.90 L319.41,283.37 L320.42,283.82 L321.44,284.23 L322.45,284.61 L323.47,284.95 L324.48,285.22 L325.50,285.44 L326.51,285.62 L327.53,285.79 L328.54,285.95 L329.56,286.09 L330.57,286.22 L331.59,286.33 L332.60,286.43 L333.62,286.51 L334.63,286.58 L335.65,286.63 L336.66,286.68 L337.68,286.72 L338.69,286.76 L339.70,286.80 L340.71,286.83 L341.72,286.86 L342.73,286.89 L343.74,286.91 L344.75,286.94 L345.76,286.96 L346.77,286.99 L347.78,287.01 L348.79,287.04 L349.80,287.06 L350.81,287.08 L351.82,287.10" fill="none" stroke="#a03848" stroke-width="1.4" stroke-linejoin="round" clip-path="url(#ca)"/>
<path d="M38.00,133.00 L42.60,122.40 L53.70,95.60" fill="none" stroke="#d41c1c" stroke-width="2.10" stroke-linejoin="round" stroke-linecap="round" clip-path="url(#ca)"/>
<path d="M53.70,95.60 L60.60,78.00" fill="none" stroke="#d41c1c" stroke-width="2.10" stroke-linejoin="round" stroke-linecap="round" clip-path="url(#ca)"/>
<path d="M60.60,78.00 L66.60,65.10 L74.30,53.10" fill="none" stroke="#d41c1c" stroke-width="2.10" stroke-linejoin="round" stroke-linecap="round" clip-path="url(#ca)"/>
<path d="M74.30,53.10 L81.10,42.00" fill="none" stroke="#d41c1c" stroke-width="2.10" stroke-linejoin="round" stroke-linecap="round" clip-path="url(#ca)"/>
<path d="M81.10,42.00 L90.60,38.20" fill="none" stroke="#d41c1c" stroke-width="2.10" stroke-linejoin="round" stroke-linecap="round" clip-path="url(#ca)"/>
<path d="M90.60,38.20 L99.10,41.10" fill="none" stroke="#d41c1c" stroke-width="2.10" stroke-linejoin="round" stroke-linecap="round" clip-path="url(#ca)"/>
<path d="M99.10,41.10 L111.70,40.50" fill="none" stroke="#d41c1c" stroke-width="2.10" stroke-linejoin="round" stroke-linecap="round" clip-path="url(#ca)"/>
<path d="M111.70,40.50 L115.10,41.80 L116.90,43.60 L120.60,52.10" fill="none" stroke="#d41c1c" stroke-width="2.16" stroke-linejoin="round" stroke-linecap="round" clip-path="url(#ca)"/>
<path d="M120.60,52.10 L122.90,51.70 L126.30,50.70 L128.00,52.10" fill="none" stroke="#d41c1c" stroke-width="2.24" stroke-linejoin="round" stroke-linecap="round" clip-path="url(#ca)"/>
<path d="M128.00,52.10 L130.60,55.20 L134.00,56.90" fill="none" stroke="#d41c1c" stroke-width="2.30" stroke-linejoin="round" stroke-linecap="round" clip-path="url(#ca)"/>
<path d="M134.00,56.90 L138.30,61.50 L140.50,62.40" fill="none" stroke="#d41c1c" stroke-width="2.30" stroke-linejoin="round" stroke-linecap="round" clip-path="url(#ca)"/>
<path d="M140.50,62.40 L143.40,67.90 L146.00,64.10 L151.10,67.20" fill="none" stroke="#d41c1c" stroke-width="2.30" stroke-linejoin="round" stroke-linecap="round" clip-path="url(#ca)"/>
<path d="M151.10,67.20 L155.40,67.50 L158.90,71.30" fill="none" stroke="#d41c1c" stroke-width="2.30" stroke-linejoin="round" stroke-linecap="round" clip-path="url(#ca)"/>
<path d="M158.90,71.30 L161.40,69.60 L167.40,71.80" fill="none" stroke="#d41c1c" stroke-width="2.30" stroke-linejoin="round" stroke-linecap="round" clip-path="url(#ca)"/>
<path d="M167.40,71.80 L170.10,72.40 L171.40,71.87 L172.30,72.35 L173.20,72.84 L174.10,73.41" fill="none" stroke="#d41c1c" stroke-width="2.30" stroke-linejoin="round" stroke-linecap="round" clip-path="url(#ca)"/>
<path d="M174.10,73.41 L175.03,73.79 L175.95,74.28 L176.88,74.56 L177.80,75.18 L178.72,76.07 L179.65,77.29 L180.57,78.07" fill="none" stroke="#d41c1c" stroke-width="2.30" stroke-linejoin="round" stroke-linecap="round" clip-path="url(#ca)"/>
<path d="M180.57,78.07 L181.50,78.40 L182.43,79.03 L183.35,79.65 L184.30,80.28 L185.25,80.67 L186.20,81.07 L187.15,81.95" fill="none" stroke="#d41c1c" stroke-width="2.30" stroke-linejoin="round" stroke-linecap="round" clip-path="url(#ca)"/>
<path d="M187.15,81.95 L188.10,83.42 L189.05,84.68 L190.00,85.21 L190.95,85.93 L191.90,87.09 L192.85,87.83 L193.80,88.58" fill="none" stroke="#d41c1c" stroke-width="2.30" stroke-linejoin="round" stroke-linecap="round" clip-path="url(#ca)"/>
<path d="M193.80,88.58 L194.75,89.48 L195.70,90.34 L196.65,91.15 L197.60,92.07 L198.57,93.40 L199.54,94.64 L200.51,95.81" fill="none" stroke="#d41c1c" stroke-width="2.30" stroke-linejoin="round" stroke-linecap="round" clip-path="url(#ca)"/>
<path d="M200.51,95.81 L201.48,96.54 L202.45,97.38 L203.42,98.97 L204.39,100.54 L205.36,101.42 L206.33,102.32 L207.30,103.48" fill="none" stroke="#d41c1c" stroke-width="2.30" stroke-linejoin="round" stroke-linecap="round" clip-path="url(#ca)"/>
<path d="M207.30,103.48 L208.27,104.85 L209.24,106.31 L210.21,107.83 L211.18,109.56 L212.15,110.90 L213.14,112.40 L214.14,114.08" fill="none" stroke="#d41c1c" stroke-width="2.30" stroke-linejoin="round" stroke-linecap="round" clip-path="url(#ca)"/>
<path d="M214.14,114.08 L215.13,115.53 L216.13,116.86 L217.12,118.39 L218.11,119.96 L219.11,121.47 L220.10,123.07 L221.10,124.77" fill="none" stroke="#d41c1c" stroke-width="2.30" stroke-linejoin="round" stroke-linecap="round" clip-path="url(#ca)"/>
<path d="M221.10,124.77 L222.09,126.43 L223.08,128.12 L224.08,129.82 L225.07,131.55 L226.07,133.29 L227.06,135.05 L228.05,136.83" fill="none" stroke="#d41c1c" stroke-width="2.30" stroke-linejoin="round" stroke-linecap="round" clip-path="url(#ca)"/>
<path d="M228.05,136.83 L229.05,138.62 L230.04,140.43 L231.04,142.26 L232.03,144.10 L233.02,145.95 L234.02,147.82 L235.01,149.70" fill="none" stroke="#d41c1c" stroke-width="2.30" stroke-linejoin="round" stroke-linecap="round" clip-path="url(#ca)"/>
<path d="M235.01,149.70 L236.01,151.59 L237.00,153.49 L238.02,155.41 L239.03,157.33 L240.05,159.27 L241.07,161.21" fill="none" stroke="#d41c1c" stroke-width="2.25" stroke-linejoin="round" stroke-linecap="round" clip-path="url(#ca)"/>
<path d="M241.07,161.21 L242.09,163.16 L243.10,165.12 L244.12,167.08 L245.14,169.05 L246.16,171.03 L247.18,173.01" fill="none" stroke="#d41c1c" stroke-width="2.16" stroke-linejoin="round" stroke-linecap="round" clip-path="url(#ca)"/>
<path d="M247.18,173.01 L248.19,175.00 L249.21,176.99 L250.23,178.98 L251.25,180.98 L252.26,182.98 L253.28,184.99" fill="none" stroke="#c81e1e" stroke-width="2.06" stroke-linejoin="round" stroke-linecap="round" clip-path="url(#ca)"/>
<path d="M253.28,184.99 L254.30,187.00 L255.31,189.01 L256.33,191.02 L257.35,193.03 L258.38,195.05 L259.40,197.06" fill="none" stroke="#c81e1e" stroke-width="1.97" stroke-linejoin="round" stroke-linecap="round" clip-path="url(#ca)"/>
<path d="M259.40,197.06 L260.43,199.08 L261.45,201.10 L262.48,203.11 L263.50,205.13 L264.52,207.14 L265.55,209.15" fill="none" stroke="#c81e1e" stroke-width="1.87" stroke-linejoin="round" stroke-linecap="round" clip-path="url(#ca)"/>
<path d="M265.55,209.15 L266.57,211.16 L267.60,213.17 L268.62,215.18 L269.65,217.18 L270.68,219.17 L271.70,221.16" fill="none" stroke="#c81e1e" stroke-width="1.78" stroke-linejoin="round" stroke-linecap="round" clip-path="url(#ca)"/>
<path d="M271.70,221.16 L272.73,223.14 L273.75,225.11 L274.77,227.07 L275.80,229.01 L276.82,230.94 L277.85,232.86" fill="none" stroke="#c81e1e" stroke-width="1.68" stroke-linejoin="round" stroke-linecap="round" clip-path="url(#ca)"/>
<path d="M277.85,232.86 L278.88,234.75 L279.92,236.62 L280.95,238.48 L281.98,240.31 L283.01,242.11 L284.05,243.89" fill="none" stroke="#c81e1e" stroke-width="1.60" stroke-linejoin="round" stroke-linecap="round" clip-path="url(#ca)"/>
<path d="M284.05,243.89 L285.08,245.64 L286.11,247.36 L287.14,249.05 L288.18,250.71 L289.21,252.33 L290.24,253.92" fill="none" stroke="#c81e1e" stroke-width="1.60" stroke-linejoin="round" stroke-linecap="round" clip-path="url(#ca)"/>
<path d="M290.24,253.92 L291.27,255.47 L292.31,256.98 L293.34,258.46 L294.37,259.89 L295.40,261.27 L296.44,262.60" fill="none" stroke="#b42424" stroke-width="1.60" stroke-linejoin="round" stroke-linecap="round" clip-path="url(#ca)"/>
<path d="M296.44,262.60 L297.47,263.89 L298.50,265.14 L299.52,266.36 L300.55,267.55 L301.57,268.71 L302.60,269.86" fill="none" stroke="#b42424" stroke-width="1.60" stroke-linejoin="round" stroke-linecap="round" clip-path="url(#ca)"/>
<path d="M302.60,269.86 L303.62,271.03 L304.65,272.18 L305.68,273.31 L306.70,274.41 L307.73,275.46 L308.75,276.45" fill="none" stroke="#b42424" stroke-width="1.60" stroke-linejoin="round" stroke-linecap="round" clip-path="url(#ca)"/>
<path d="M308.75,276.45 L309.77,277.36 L310.80,278.20 L311.82,279.00 L312.85,279.77 L313.88,280.51 L314.90,281.19" fill="none" stroke="#b42424" stroke-width="1.60" stroke-linejoin="round" stroke-linecap="round" clip-path="url(#ca)"/>
<path d="M314.90,281.19 L315.93,281.82 L316.95,282.39 L317.98,282.90 L319.00,283.37 L320.02,283.82 L321.05,284.23" fill="none" stroke="#b42424" stroke-width="1.60" stroke-linejoin="round" stroke-linecap="round" clip-path="url(#ca)"/>
<path d="M321.05,284.23 L322.07,284.61 L323.10,284.95 L324.12,285.22 L325.15,285.44 L326.18,285.62 L327.20,285.79" fill="none" stroke="#b42424" stroke-width="1.60" stroke-linejoin="round" stroke-linecap="round" clip-path="url(#ca)"/>
<path d="M327.20,285.79 L328.23,285.95 L329.25,286.09 L330.27,286.22 L331.30,286.33 L332.32,286.43 L333.35,286.51" fill="none" stroke="#b42424" stroke-width="1.60" stroke-linejoin="round" stroke-linecap="round" clip-path="url(#ca)"/>
<path d="M333.35,286.51 L334.38,286.58 L335.40,286.63 L336.43,286.68 L337.45,286.72 L338.48,286.76 L339.50,286.80" fill="none" stroke="#b42424" stroke-width="1.60" stroke-linejoin="round" stroke-linecap="round" clip-path="url(#ca)"/>
<path d="M339.50,286.80 L340.52,286.83 L341.53,286.86 L342.55,286.89 L343.57,286.91 L344.58,286.94 L345.60,286.96" fill="none" stroke="#b42424" stroke-width="1.60" stroke-linejoin="round" stroke-linecap="round" clip-path="url(#ca)"/>
<path d="M345.60,286.96 L346.62,286.99 L347.63,287.01 L348.65,287.04 L349.67,287.06 L350.68,287.08 L351.70,287.10" fill="none" stroke="#b42424" stroke-width="1.60" stroke-linejoin="round" stroke-linecap="round" clip-path="url(#ca)"/>
<path d="M32.20,578.73 L32.90,577.84 L33.60,576.82 L34.30,575.68 L35.00,574.43 L35.70,573.08 L36.40,571.66 L37.10,570.16 L37.80,568.62 L38.50,567.05 L39.20,565.44 L39.90,563.82 L40.60,562.18 L41.30,560.54 L42.00,558.89 L42.70,557.23 L43.40,555.57 L44.10,553.91 L44.80,552.25 L45.50,550.57 L46.20,548.89 L46.90,547.20 L47.60,545.50 L48.30,543.79 L49.00,542.06 L49.70,540.31 L50.40,538.55 L51.10,536.77 L51.80,534.97 L52.50,533.15 L53.20,531.33 L53.90,529.49 L54.60,527.64 L55.30,525.78 L56.00,523.91 L56.67,522.05 L57.32,520.18 L57.97,518.31 L58.63,516.44 L59.28,514.63 L59.93,512.79 L60.59,510.85 L61.24,508.85 L61.89,506.91 L62.55,505.16 L63.20,503.59 L63.85,501.99 L64.51,500.18 L65.16,498.12 L65.81,496.02 L66.47,494.20 L67.12,492.79 L67.77,491.62 L68.43,490.26 L69.08,488.51 L69.73,486.48 L70.38,484.53 L71.00,482.98 L71.62,481.86 L72.24,480.87 L72.86,479.64 L73.48,478.01 L74.10,476.14 L74.72,474.40 L75.34,473.08 L75.96,472.15 L76.58,471.30 L77.20,470.15 L77.83,468.59 L78.45,466.83 L79.07,465.23 L79.69,464.06 L80.31,463.23 L80.93,462.39 L81.55,461.22 L82.17,459.62 L82.79,457.86 L83.41,456.30 L84.07,455.15 L84.74,454.30 L85.40,453.39 L86.07,452.13 L86.73,450.48 L87.40,448.74 L88.06,447.27 L88.73,446.26 L89.39,445.54 L90.06,444.72 L90.72,443.53 L91.39,441.98 L92.05,440.39 L92.72,439.13 L93.38,438.30 L94.05,437.70 L94.71,436.95 L95.38,435.79 L96.04,434.30 L96.71,432.81 L97.37,431.67 L98.04,430.96 L98.70,430.41 L99.37,429.66 L100.03,428.48 L100.70,427.00 L101.36,425.58 L102.03,424.55 L102.71,423.91 L103.45,423.39 L104.18,422.62 L104.92,421.42 L105.65,419.98 L106.39,418.65 L107.12,417.73 L107.86,417.20 L108.59,416.76 L109.33,416.03 L110.06,414.89 L110.80,413.54 L111.53,412.38 L112.27,411.63 L113.00,411.24 L113.74,410.86 L114.47,410.14 L115.21,409.02 L115.94,407.74 L116.68,406.68 L117.41,406.06 L118.15,405.74 L118.88,405.39 L119.62,404.67 L120.35,403.56 L121.09,402.36 L121.82,401.43 L122.56,400.94 L123.29,400.73 L124.06,400.43 L124.85,399.74 L125.64,398.70 L126.43,397.63 L127.21,396.88 L128.00,396.58 L128.79,396.52 L129.58,396.31 L130.36,395.72 L131.15,394.80 L131.94,393.91 L132.73,393.38 L133.51,393.28 L134.30,393.36 L135.09,393.25 L135.88,392.75 L136.66,391.96 L137.45,391.23 L138.24,390.89 L139.03,390.95 L139.81,391.13 L140.60,391.05 L141.39,390.56 L142.18,389.80 L142.96,389.17 L143.75,388.94 L144.54,389.09 L145.33,389.31 L146.12,389.22 L146.95,388.71 L147.79,387.99 L148.62,387.44 L149.46,387.31 L150.29,387.53 L151.13,387.75 L151.96,387.64 L152.80,387.15 L153.63,386.51 L154.47,386.08 L155.30,386.10 L156.13,386.42 L156.97,386.70 L157.80,386.62 L158.64,386.15 L159.47,385.59 L160.31,385.31 L161.14,385.49 L170.00,384.82 L170.70,384.77 L171.40,384.78 L172.10,384.83 L172.80,384.96 L173.50,385.08 L174.20,385.20 L174.90,385.32 L175.60,385.44 L176.30,385.56 L177.00,385.68 L177.70,385.80 L178.40,385.92 L179.10,386.05 L179.80,386.18 L180.50,386.23 L181.20,386.26 L181.90,386.29 L182.60,386.33 L183.30,386.38 L184.00,386.42 L184.70,386.47 L185.40,386.51 L186.10,386.56 L186.80,386.61 L187.50,386.65 L188.20,386.70 L188.90,386.75 L189.60,386.79 L190.30,386.84 L191.00,386.89 L191.70,386.95 L192.40,387.01 L193.10,387.07 L193.80,387.14 L194.50,387.20 L195.20,387.27 L195.90,387.33 L196.60,387.40 L197.30,387.46 L198.00,387.53 L198.70,387.60 L199.40,387.66 L200.10,387.71 L200.80,387.64 L201.50,387.58 L202.20,387.54 L202.90,387.52 L203.60,387.51 L204.30,387.52 L205.00,387.53 L205.70,387.55 L206.40,387.56 L207.10,387.55 L207.80,387.50 L208.50,387.41 L209.20,387.26 L209.90,387.06 L210.60,386.83 L211.30,386.58 L212.00,386.35 L212.70,386.13 L213.40,385.95 L214.10,385.80 L214.80,385.67 L215.50,385.52 L216.20,385.37 L216.90,385.22 L217.60,385.07 L218.30,384.91 L219.00,384.76 L219.70,384.60 L220.40,384.43 L221.10,384.24 L221.80,384.04 L222.50,383.81 L223.20,383.56 L223.90,383.30 L224.60,383.02 L225.30,382.70 L226.00,382.32 L226.70,381.84 L227.40,381.24 L228.10,380.56 L228.80,379.84 L229.50,379.14 L230.20,378.54 L230.90,378.07 L231.60,377.68 L232.30,377.33 L233.00,376.98 L233.70,376.60 L234.40,376.15 L235.10,375.65 L235.80,375.08 L236.50,374.49 L237.20,373.89 L237.90,373.30 L238.60,372.75 L239.30,372.24 L240.00,371.78 L240.70,371.34 L241.40,370.95 L242.10,370.62 L242.80,370.36 L247.70,364.56 L251.10,364.50 L254.60,361.50 L256.30,362.40 L258.60,362.80 L260.70,365.60 L262.30,374.30 L264.60,365.00 L265.70,366.30 L267.90,383.50 L270.20,369.70 L271.40,372.00 L274.40,392.00 L276.20,380.30 L277.10,383.40 L279.00,405.00 L281.60,387.00 L282.60,392.50 L284.60,410.50 L287.60,403.30 L288.60,406.50 L291.00,427.00 L294.40,407.10 L295.50,411.50 L297.68,428.80 L298.88,430.67 L300.00,431.95 L303.80,458.59 L306.90,469.53 L310.10,481.28 L315.90,460.69 L318.57,478.75 L322.78,502.11 L327.12,536.07 L332.70,566.50 L336.63,600.40 L341.50,526.00 L347.50,451.00 L350.00,419.00" fill="none" stroke="#4a6ad0" stroke-width="1.0" stroke-linejoin="round" clip-path="url(#cb)"/>
<path d="M32.96,578.73 L33.66,577.84 L34.36,576.82 L35.06,575.68 L35.76,574.43 L36.46,573.08 L37.16,571.66 L37.86,570.16 L38.56,568.62 L39.26,567.05 L39.96,565.44 L40.66,563.82 L41.36,562.18 L42.06,560.54 L42.76,558.89 L43.46,557.23 L44.16,555.57 L44.86,553.91 L45.56,552.25 L46.26,550.57 L46.96,548.89 L47.66,547.20 L48.36,545.50 L49.06,543.79 L49.76,542.06 L50.46,540.31 L51.16,538.55 L51.86,536.77 L52.56,534.97 L53.26,533.15 L53.96,531.33 L54.66,529.49 L55.36,527.64 L56.06,525.78 L56.76,523.91 L57.43,522.05 L58.10,520.18 L58.76,518.31 L59.42,516.44 L60.08,514.63 L60.75,512.79 L61.41,510.85 L62.07,508.85 L62.73,506.91 L63.40,505.16 L64.06,503.59 L64.72,501.99 L65.39,500.18 L66.05,498.12 L66.71,496.02 L67.37,494.20 L68.04,492.79 L68.70,491.62 L69.36,490.26 L70.02,488.51 L70.69,486.48 L71.34,484.53 L71.98,482.98 L72.61,481.86 L73.25,480.87 L73.89,479.64 L74.52,478.01 L75.16,476.14 L75.80,474.40 L76.43,473.08 L77.07,472.15 L77.71,471.30 L78.34,470.15 L78.98,468.59 L79.62,466.83 L80.25,465.23 L80.89,464.06 L81.53,463.23 L82.16,462.39 L82.80,461.22 L83.44,459.62 L84.07,457.86 L84.71,456.30 L85.38,455.15 L86.05,454.31 L86.72,453.41 L87.39,452.15 L88.06,450.51 L88.74,448.78 L89.41,447.32 L90.08,446.32 L90.75,445.60 L91.42,444.79 L92.10,443.60 L92.77,442.06 L93.44,440.48 L94.11,439.22 L94.78,438.40 L95.46,437.81 L96.13,437.06 L96.80,435.91 L97.47,434.42 L98.14,432.94 L98.82,431.81 L99.49,431.10 L100.16,430.56 L100.83,429.82 L101.50,428.64 L102.18,427.17 L102.85,425.76 L103.52,424.73 L104.21,424.10 L104.94,423.59 L105.66,422.83 L106.39,421.64 L107.12,420.20 L107.85,418.88 L108.58,417.97 L109.30,417.44 L110.03,417.01 L110.76,416.28 L111.49,415.14 L112.22,413.79 L112.94,412.63 L113.67,411.89 L114.40,411.50 L115.13,411.12 L115.86,410.40 L116.58,409.28 L117.31,408.00 L118.04,406.95 L118.77,406.32 L119.50,406.02 L120.22,405.66 L120.95,404.94 L121.68,403.84 L122.41,402.64 L123.14,401.71 L123.86,401.22 L124.59,401.02 L125.35,400.72 L126.12,400.03 L126.89,399.00 L127.66,397.92 L128.43,397.18 L129.20,396.88 L129.97,396.82 L130.74,396.62 L131.51,396.03 L132.28,395.11 L133.05,394.22 L133.82,393.69 L134.59,393.59 L135.36,393.68 L136.13,393.57 L136.90,393.07 L137.67,392.27 L138.44,391.54 L139.21,391.19 L139.98,391.25 L140.75,391.42 L141.52,391.34 L142.29,390.84 L143.06,390.09 L143.83,389.45 L144.60,389.22 L145.37,389.37 L146.14,389.58 L146.92,389.48 L147.72,388.97 L148.53,388.25 L149.34,387.70 L150.15,387.56 L150.95,387.78 L151.76,388.00 L152.57,387.88 L153.38,387.38 L154.18,386.72 L154.99,386.29 L155.80,386.29 L156.61,386.61 L157.42,386.87 L158.22,386.78 L159.03,386.31 L159.84,385.73 L160.65,385.44 L161.45,385.61 L170.00,384.77 L170.70,384.70 L171.40,384.69 L172.10,384.73 L172.80,384.81 L173.50,384.88 L174.20,384.96 L174.90,385.04 L175.60,385.11 L176.30,385.19 L177.00,385.27 L177.70,385.35 L178.40,385.42 L179.10,385.50 L179.80,385.59 L180.50,385.61 L181.20,385.62 L181.90,385.64 L182.60,385.66 L183.30,385.68 L184.00,385.70 L184.70,385.73 L185.40,385.75 L186.10,385.78 L186.80,385.80 L187.50,385.83 L188.20,385.85 L188.90,385.88 L189.60,385.91 L190.30,385.93 L191.00,385.96 L191.70,386.00 L192.40,386.04 L193.10,386.08 L193.80,386.12 L194.50,386.17 L195.20,386.21 L195.90,386.26 L196.60,386.30 L197.30,386.35 L198.00,386.39 L198.70,386.44 L199.40,386.48 L200.10,386.51 L200.80,386.45 L201.50,386.40 L202.20,386.37 L202.90,386.36 L203.60,386.36 L204.30,386.38 L205.00,386.40 L205.70,386.42 L206.40,386.44 L207.10,386.44 L207.80,386.41 L208.50,386.33 L209.20,386.19 L209.90,386.00 L210.60,385.77 L211.30,385.53 L212.00,385.31 L212.70,385.10 L213.40,384.93 L214.10,384.79 L214.80,384.67 L215.50,384.54 L216.20,384.40 L216.90,384.27 L217.60,384.14 L218.30,384.00 L219.00,383.87 L219.70,383.73 L220.40,383.57 L221.10,383.41 L221.80,383.22 L222.50,383.01 L223.20,382.78 L223.90,382.54 L224.60,382.28 L225.30,381.98 L226.00,381.61 L226.70,381.15 L227.40,380.57 L228.10,379.91 L228.80,379.21 L229.50,378.53 L230.20,377.94 L230.90,377.48 L231.60,377.09 L232.30,376.74 L233.00,376.40 L233.70,376.01 L234.40,375.58 L235.10,375.07 L235.80,374.51 L236.50,373.92 L237.20,373.32 L237.90,372.74 L238.60,372.19 L239.30,371.69 L240.00,371.23 L240.70,370.80 L241.40,370.41 L242.10,370.08 L242.80,369.82 L247.70,364.05 L251.10,364.00 L254.60,361.00 L256.30,361.90 L258.60,362.30 L260.70,365.10 L262.30,373.00 L264.60,364.50 L265.70,365.80 L267.90,381.80 L270.20,369.20 L271.40,371.50 L274.40,390.10 L276.20,379.80 L277.10,382.90 L279.00,402.70 L281.60,386.50 L282.60,392.00 L284.60,410.00 L287.60,402.80 L288.60,406.00 L291.00,424.50 L294.40,406.60 L295.50,411.00 L297.88,428.30 L299.44,430.18 L300.60,431.46 L304.40,458.11 L307.50,469.07 L310.70,480.83 L316.50,460.25 L319.04,478.32 L322.88,501.69 L326.86,535.66 L332.26,566.10 L336.42,600.00 L341.50,525.60 L347.50,450.60 L350.00,418.60" fill="none" stroke="#d87040" stroke-width="1.3" stroke-linejoin="round" clip-path="url(#cb)"/>
<path d="M33.72,578.73 L34.42,577.84 L35.12,576.82 L35.82,575.68 L36.52,574.43 L37.22,573.08 L37.92,571.66 L38.62,570.16 L39.32,568.62 L40.02,567.05 L40.72,565.44 L41.42,563.82 L42.12,562.18 L42.82,560.54 L43.52,558.89 L44.22,557.23 L44.92,555.57 L45.62,553.91 L46.32,552.25 L47.02,550.57 L47.72,548.89 L48.42,547.20 L49.12,545.50 L49.82,543.79 L50.52,542.06 L51.22,540.31 L51.92,538.55 L52.62,536.77 L53.32,534.97 L54.02,533.15 L54.72,531.33 L55.42,529.49 L56.12,527.64 L56.82,525.78 L57.52,523.91 L58.20,522.05 L58.87,520.18 L59.54,518.31 L60.22,516.44 L60.89,514.63 L61.56,512.79 L62.23,510.85 L62.90,508.85 L63.58,506.91 L64.25,505.16 L64.92,503.59 L65.59,501.99 L66.26,500.18 L66.94,498.12 L67.61,496.02 L68.28,494.20 L68.95,492.79 L69.62,491.62 L70.30,490.26 L70.97,488.51 L71.64,486.48 L72.31,484.53 L72.96,482.98 L73.61,481.86 L74.26,480.87 L74.92,479.64 L75.57,478.01 L76.22,476.14 L76.87,474.40 L77.53,473.08 L78.18,472.15 L78.83,471.30 L79.48,470.15 L80.14,468.59 L80.79,466.83 L81.44,465.23 L82.09,464.06 L82.74,463.23 L83.40,462.39 L84.05,461.22 L84.70,459.62 L85.35,457.86 L86.01,456.30 L86.68,455.16 L87.36,454.32 L88.04,453.43 L88.72,452.18 L89.40,450.54 L90.08,448.81 L90.76,447.37 L91.44,446.37 L92.11,445.66 L92.79,444.85 L93.47,443.67 L94.15,442.14 L94.83,440.57 L95.51,439.31 L96.19,438.50 L96.87,437.91 L97.55,437.17 L98.23,436.03 L98.90,434.55 L99.58,433.08 L100.26,431.95 L100.94,431.25 L101.62,430.72 L102.30,429.98 L102.98,428.81 L103.66,427.35 L104.34,425.95 L105.02,424.92 L105.71,424.30 L106.43,423.79 L107.15,423.03 L107.87,421.85 L108.59,420.42 L109.31,419.11 L110.03,418.20 L110.75,417.68 L111.47,417.25 L112.20,416.52 L112.92,415.38 L113.64,414.04 L114.36,412.88 L115.08,412.14 L115.80,411.75 L116.52,411.38 L117.24,410.66 L117.96,409.55 L118.68,408.27 L119.41,407.21 L120.13,406.59 L120.85,406.29 L121.57,405.93 L122.29,405.22 L123.01,404.12 L123.73,402.92 L124.45,401.99 L125.17,401.51 L125.89,401.31 L126.64,401.00 L127.39,400.32 L128.14,399.29 L128.90,398.22 L129.65,397.48 L130.40,397.18 L131.15,397.12 L131.91,396.92 L132.66,396.33 L133.41,395.42 L134.16,394.53 L134.92,394.00 L135.67,393.91 L136.42,394.00 L137.17,393.89 L137.93,393.38 L138.68,392.58 L139.43,391.84 L140.18,391.49 L140.94,391.55 L141.69,391.72 L142.44,391.64 L143.19,391.13 L143.95,390.37 L144.70,389.73 L145.45,389.50 L146.20,389.64 L146.96,389.84 L147.71,389.75 L148.49,389.23 L149.27,388.51 L150.05,387.95 L150.83,387.82 L151.62,388.02 L152.40,388.24 L153.18,388.12 L153.96,387.61 L154.74,386.94 L155.52,386.50 L156.30,386.49 L157.08,386.79 L157.86,387.05 L158.64,386.94 L159.42,386.46 L160.20,385.87 L160.98,385.56 L161.77,385.73 L170.00,384.72 L170.70,384.64 L171.40,384.61 L172.10,384.62 L172.80,384.66 L173.50,384.69 L174.20,384.72 L174.90,384.76 L175.60,384.79 L176.30,384.82 L177.00,384.86 L177.70,384.89 L178.40,384.92 L179.10,384.96 L179.80,385.00 L180.50,385.00 L181.20,384.99 L181.90,384.98 L182.60,384.98 L183.30,384.98 L184.00,384.98 L184.70,384.99 L185.40,384.99 L186.10,384.99 L186.80,385.00 L187.50,385.00 L188.20,385.01 L188.90,385.01 L189.60,385.02 L190.30,385.02 L191.00,385.03 L191.70,385.05 L192.40,385.07 L193.10,385.09 L193.80,385.11 L194.50,385.13 L195.20,385.15 L195.90,385.18 L196.60,385.20 L197.30,385.23 L198.00,385.25 L198.70,385.27 L199.40,385.30 L200.10,385.32 L200.80,385.26 L201.50,385.22 L202.20,385.20 L202.90,385.19 L203.60,385.21 L204.30,385.24 L205.00,385.27 L205.70,385.30 L206.40,385.33 L207.10,385.34 L207.80,385.31 L208.50,385.24 L209.20,385.11 L209.90,384.93 L210.60,384.71 L211.30,384.48 L212.00,384.27 L212.70,384.07 L213.40,383.91 L214.10,383.77 L214.80,383.67 L215.50,383.55 L216.20,383.43 L216.90,383.32 L217.60,383.20 L218.30,383.09 L219.00,382.97 L219.70,382.85 L220.40,382.72 L221.10,382.57 L221.80,382.40 L222.50,382.21 L223.20,382.00 L223.90,381.77 L224.60,381.53 L225.30,381.25 L226.00,380.91 L226.70,380.46 L227.40,379.90 L228.10,379.26 L228.80,378.58 L229.50,377.92 L230.20,377.34 L230.90,376.88 L231.60,376.50 L232.30,376.15 L233.00,375.81 L233.70,375.43 L234.40,375.00 L235.10,374.50 L235.80,373.94 L236.50,373.35 L237.20,372.76 L237.90,372.18 L238.60,371.64 L239.30,371.14 L240.00,370.68 L240.70,370.25 L241.40,369.87 L242.10,369.54 L242.80,369.28 L247.70,363.53 L251.10,363.50 L254.60,360.50 L256.30,361.40 L258.60,361.80 L260.70,364.60 L262.30,371.70 L264.60,364.00 L265.70,365.30 L267.90,380.10 L270.20,368.70 L271.40,371.00 L274.40,388.20 L276.20,379.30 L277.10,382.40 L279.00,400.40 L281.60,386.00 L282.60,391.50 L284.60,409.50 L287.60,402.30 L288.60,405.50 L291.00,422.00 L294.40,406.10 L295.50,410.50 L298.09,427.80 L300.01,429.68 L301.20,430.97 L305.00,457.63 L308.10,468.60 L311.30,480.37 L317.10,459.81 L319.50,477.89 L322.99,501.27 L326.59,535.24 L331.82,565.70 L336.22,599.60 L341.50,525.20 L347.50,450.20 L350.00,418.20" fill="none" stroke="#8c8c8c" stroke-width="1.3" stroke-linejoin="round" clip-path="url(#cb)"/>
<path d="M34.48,578.73 L35.18,577.84 L35.88,576.82 L36.58,575.68 L37.28,574.43 L37.98,573.08 L38.68,571.66 L39.38,570.16 L40.08,568.62 L40.78,567.05 L41.48,565.44 L42.18,563.82 L42.88,562.18 L43.58,560.54 L44.28,558.89 L44.98,557.23 L45.68,555.57 L46.38,553.91 L47.08,552.25 L47.78,550.57 L48.48,548.89 L49.18,547.20 L49.88,545.50 L50.58,543.79 L51.28,542.06 L51.98,540.31 L52.68,538.55 L53.38,536.77 L54.08,534.97 L54.78,533.15 L55.48,531.33 L56.18,529.49 L56.88,527.64 L57.58,525.78 L58.28,523.91 L58.97,522.05 L59.65,520.18 L60.33,518.31 L61.01,516.44 L61.69,514.63 L62.37,512.79 L63.05,510.85 L63.74,508.85 L64.42,506.91 L65.10,505.16 L65.78,503.59 L66.46,501.99 L67.14,500.18 L67.82,498.12 L68.51,496.02 L69.19,494.20 L69.87,492.79 L70.55,491.62 L71.23,490.26 L71.91,488.51 L72.59,486.48 L73.27,484.53 L73.94,482.98 L74.61,481.86 L75.28,480.87 L75.94,479.64 L76.61,478.01 L77.28,476.14 L77.95,474.40 L78.62,473.08 L79.29,472.15 L79.95,471.30 L80.62,470.15 L81.29,468.59 L81.96,466.83 L82.63,465.23 L83.29,464.06 L83.96,463.23 L84.63,462.39 L85.30,461.22 L85.97,459.62 L86.64,457.86 L87.30,456.30 L87.99,455.17 L88.67,454.33 L89.36,453.45 L90.05,452.21 L90.73,450.58 L91.42,448.85 L92.10,447.41 L92.79,446.42 L93.48,445.72 L94.16,444.92 L94.85,443.75 L95.53,442.22 L96.22,440.65 L96.91,439.41 L97.59,438.60 L98.28,438.02 L98.96,437.29 L99.65,436.15 L100.34,434.68 L101.02,433.21 L101.71,432.09 L102.39,431.40 L103.08,430.87 L103.77,430.14 L104.45,428.98 L105.14,427.52 L105.82,426.13 L106.51,425.11 L107.20,424.49 L107.92,423.99 L108.63,423.24 L109.35,422.07 L110.06,420.64 L110.77,419.33 L111.49,418.44 L112.20,417.93 L112.92,417.49 L113.63,416.77 L114.34,415.63 L115.06,414.29 L115.77,413.13 L116.49,412.39 L117.20,412.01 L117.91,411.63 L118.63,410.93 L119.34,409.81 L120.06,408.53 L120.77,407.48 L121.48,406.86 L122.20,406.56 L122.91,406.21 L123.63,405.50 L124.34,404.40 L125.05,403.20 L125.77,402.27 L126.48,401.79 L127.20,401.59 L127.93,401.29 L128.66,400.62 L129.40,399.58 L130.13,398.52 L130.87,397.77 L131.60,397.48 L132.34,397.43 L133.07,397.23 L133.81,396.64 L134.54,395.73 L135.28,394.84 L136.01,394.32 L136.75,394.23 L137.48,394.32 L138.22,394.21 L138.95,393.70 L139.69,392.89 L140.42,392.15 L141.16,391.80 L141.89,391.85 L142.63,392.01 L143.36,391.93 L144.10,391.42 L144.83,390.66 L145.57,390.01 L146.30,389.77 L147.04,389.91 L147.77,390.11 L148.51,390.02 L149.26,389.50 L150.02,388.77 L150.77,388.21 L151.52,388.07 L152.28,388.27 L153.03,388.48 L153.78,388.36 L154.54,387.84 L155.29,387.16 L156.05,386.70 L156.80,386.68 L157.55,386.97 L158.31,387.22 L159.06,387.11 L159.82,386.61 L160.57,386.01 L161.32,385.69 L162.08,385.84 L170.00,384.68 L170.70,384.57 L171.40,384.53 L172.10,384.51 L172.80,384.51 L173.50,384.50 L174.20,384.49 L174.90,384.48 L175.60,384.46 L176.30,384.45 L177.00,384.44 L177.70,384.43 L178.40,384.42 L179.10,384.42 L179.80,384.41 L180.50,384.38 L181.20,384.35 L181.90,384.32 L182.60,384.30 L183.30,384.28 L184.00,384.26 L184.70,384.25 L185.40,384.23 L186.10,384.21 L186.80,384.19 L187.50,384.18 L188.20,384.16 L188.90,384.14 L189.60,384.13 L190.30,384.12 L191.00,384.10 L191.70,384.10 L192.40,384.09 L193.10,384.09 L193.80,384.09 L194.50,384.10 L195.20,384.10 L195.90,384.10 L196.60,384.10 L197.30,384.11 L198.00,384.11 L198.70,384.11 L199.40,384.12 L200.10,384.12 L200.80,384.07 L201.50,384.04 L202.20,384.03 L202.90,384.03 L203.60,384.06 L204.30,384.09 L205.00,384.13 L205.70,384.18 L206.40,384.21 L207.10,384.23 L207.80,384.22 L208.50,384.15 L209.20,384.03 L209.90,383.86 L210.60,383.65 L211.30,383.44 L212.00,383.23 L212.70,383.04 L213.40,382.89 L214.10,382.76 L214.80,382.66 L215.50,382.56 L216.20,382.47 L216.90,382.37 L217.60,382.27 L218.30,382.18 L219.00,382.08 L219.70,381.98 L220.40,381.86 L221.10,381.73 L221.80,381.58 L222.50,381.41 L223.20,381.22 L223.90,381.01 L224.60,380.79 L225.30,380.53 L226.00,380.20 L226.70,379.77 L227.40,379.23 L228.10,378.61 L228.80,377.94 L229.50,377.30 L230.20,376.74 L230.90,376.29 L231.60,375.91 L232.30,375.57 L233.00,375.23 L233.70,374.85 L234.40,374.42 L235.10,373.92 L235.80,373.37 L236.50,372.79 L237.20,372.19 L237.90,371.62 L238.60,371.08 L239.30,370.58 L240.00,370.13 L240.70,369.71 L241.40,369.32 L242.10,369.00 L242.80,368.75 L247.70,363.02 L251.10,363.00 L254.60,360.00 L256.30,360.90 L258.60,361.30 L260.70,364.10 L262.30,370.40 L264.60,363.50 L265.70,364.80 L267.90,378.40 L270.20,368.20 L271.40,370.50 L274.40,386.30 L276.20,378.80 L277.10,381.90 L279.00,398.10 L281.60,385.50 L282.60,391.00 L284.60,409.00 L287.60,401.80 L288.60,405.00 L291.00,419.50 L294.40,405.60 L295.50,410.00 L298.29,427.30 L300.57,429.19 L301.80,430.48 L305.60,457.15 L308.70,468.13 L311.90,479.91 L317.70,459.37 L319.97,477.46 L323.09,500.84 L326.33,534.83 L331.38,565.30 L336.01,599.20 L341.50,524.80 L347.50,449.80 L350.00,417.80" fill="none" stroke="#3cb371" stroke-width="1.3" stroke-linejoin="round" clip-path="url(#cb)"/>
<path d="M35.24,578.73 L35.94,577.84 L36.64,576.82 L37.34,575.68 L38.04,574.43 L38.74,573.08 L39.44,571.66 L40.14,570.16 L40.84,568.62 L41.54,567.05 L42.24,565.44 L42.94,563.82 L43.64,562.18 L44.34,560.54 L45.04,558.89 L45.74,557.23 L46.44,555.57 L47.14,553.91 L47.84,552.25 L48.54,550.57 L49.24,548.89 L49.94,547.20 L50.64,545.50 L51.34,543.79 L52.04,542.06 L52.74,540.31 L53.44,538.55 L54.14,536.77 L54.84,534.97 L55.54,533.15 L56.24,531.33 L56.94,529.49 L57.64,527.64 L58.34,525.78 L59.04,523.91 L59.73,522.05 L60.42,520.18 L61.11,518.31 L61.81,516.44 L62.50,514.63 L63.19,512.79 L63.88,510.85 L64.57,508.85 L65.26,506.91 L65.95,505.16 L66.64,503.59 L67.33,501.99 L68.02,500.18 L68.71,498.12 L69.40,496.02 L70.09,494.20 L70.78,492.79 L71.47,491.62 L72.17,490.26 L72.86,488.51 L73.55,486.48 L74.24,484.53 L74.92,482.98 L75.60,481.86 L76.29,480.87 L76.97,479.64 L77.66,478.01 L78.34,476.14 L79.02,474.40 L79.71,473.08 L80.39,472.15 L81.08,471.30 L81.76,470.15 L82.45,468.59 L83.13,466.83 L83.81,465.23 L84.50,464.06 L85.18,463.23 L85.87,462.39 L86.55,461.22 L87.23,459.62 L87.92,457.86 L88.60,456.30 L89.29,455.17 L89.99,454.35 L90.68,453.47 L91.37,452.23 L92.07,450.61 L92.76,448.89 L93.45,447.46 L94.15,446.47 L94.84,445.77 L95.53,444.99 L96.22,443.82 L96.92,442.30 L97.61,440.74 L98.30,439.50 L99.00,438.70 L99.69,438.13 L100.38,437.40 L101.08,436.27 L101.77,434.80 L102.46,433.34 L103.15,432.23 L103.85,431.54 L104.54,431.03 L105.23,430.30 L105.93,429.15 L106.62,427.70 L107.31,426.31 L108.01,425.29 L108.70,424.69 L109.41,424.20 L110.12,423.45 L110.82,422.28 L111.53,420.86 L112.24,419.56 L112.94,418.67 L113.65,418.17 L114.36,417.73 L115.07,417.01 L115.77,415.88 L116.48,414.54 L117.19,413.38 L117.89,412.65 L118.60,412.27 L119.31,411.89 L120.01,411.19 L120.72,410.07 L121.43,408.80 L122.14,407.75 L122.84,407.13 L123.55,406.83 L124.26,406.48 L124.96,405.77 L125.67,404.67 L126.38,403.48 L127.08,402.56 L127.79,402.08 L128.50,401.88 L129.21,401.58 L129.93,400.91 L130.65,399.88 L131.37,398.81 L132.08,398.07 L132.80,397.78 L133.52,397.73 L134.24,397.53 L134.95,396.95 L135.67,396.04 L136.39,395.16 L137.11,394.63 L137.82,394.54 L138.54,394.63 L139.26,394.53 L139.98,394.01 L140.69,393.20 L141.41,392.46 L142.13,392.10 L142.85,392.14 L143.56,392.31 L144.28,392.22 L145.00,391.71 L145.72,390.94 L146.43,390.30 L147.15,390.05 L147.87,390.19 L148.59,390.38 L149.30,390.28 L150.03,389.76 L150.76,389.03 L151.48,388.46 L152.21,388.32 L152.94,388.52 L153.67,388.73 L154.39,388.60 L155.12,388.07 L155.85,387.38 L156.57,386.91 L157.30,386.88 L158.03,387.16 L158.75,387.39 L159.48,387.27 L160.21,386.76 L160.93,386.15 L161.66,385.82 L162.39,385.96 L170.00,384.63 L170.70,384.50 L171.40,384.44 L172.10,384.41 L172.80,384.36 L173.50,384.30 L174.20,384.25 L174.90,384.19 L175.60,384.14 L176.30,384.09 L177.00,384.03 L177.70,383.98 L178.40,383.92 L179.10,383.87 L179.80,383.83 L180.50,383.77 L181.20,383.71 L181.90,383.66 L182.60,383.62 L183.30,383.58 L184.00,383.54 L184.70,383.50 L185.40,383.47 L186.10,383.43 L186.80,383.39 L187.50,383.35 L188.20,383.32 L188.90,383.28 L189.60,383.24 L190.30,383.21 L191.00,383.17 L191.70,383.15 L192.40,383.12 L193.10,383.10 L193.80,383.08 L194.50,383.06 L195.20,383.04 L195.90,383.02 L196.60,383.01 L197.30,382.99 L198.00,382.97 L198.70,382.95 L199.40,382.94 L200.10,382.92 L200.80,382.88 L201.50,382.86 L202.20,382.86 L202.90,382.87 L203.60,382.91 L204.30,382.95 L205.00,383.00 L205.70,383.05 L206.40,383.10 L207.10,383.13 L207.80,383.12 L208.50,383.07 L209.20,382.95 L209.90,382.79 L210.60,382.59 L211.30,382.39 L212.00,382.19 L212.70,382.01 L213.40,381.86 L214.10,381.75 L214.80,381.66 L215.50,381.58 L216.20,381.50 L216.90,381.42 L217.60,381.34 L218.30,381.27 L219.00,381.19 L219.70,381.10 L220.40,381.01 L221.10,380.89 L221.80,380.76 L222.50,380.61 L223.20,380.44 L223.90,380.25 L224.60,380.04 L225.30,379.80 L226.00,379.49 L226.70,379.08 L227.40,378.56 L228.10,377.96 L228.80,377.31 L229.50,376.69 L230.20,376.14 L230.90,375.69 L231.60,375.31 L232.30,374.98 L233.00,374.64 L233.70,374.27 L234.40,373.84 L235.10,373.35 L235.80,372.80 L236.50,372.22 L237.20,371.63 L237.90,371.06 L238.60,370.52 L239.30,370.03 L240.00,369.58 L240.70,369.16 L241.40,368.78 L242.10,368.46 L242.80,368.21 L247.70,362.51 L251.10,362.50 L254.60,359.50 L256.30,360.40 L258.60,360.80 L260.70,363.60 L262.30,369.10 L264.60,363.00 L265.70,364.30 L267.90,376.70 L270.20,367.70 L271.40,370.00 L274.40,384.40 L276.20,378.30 L277.10,381.40 L279.00,395.80 L281.60,385.00 L282.60,390.50 L284.60,408.50 L287.60,401.30 L288.60,404.50 L291.00,417.00 L294.40,405.10 L295.50,409.50 L298.50,426.80 L301.14,428.69 L302.40,429.99 L306.20,456.68 L309.30,467.67 L312.50,479.46 L318.30,458.94 L320.43,477.03 L323.19,500.42 L326.06,534.41 L330.94,564.90 L335.81,598.80 L341.50,524.40 L347.50,449.40 L350.00,417.40" fill="none" stroke="#5a4fb0" stroke-width="1.3" stroke-linejoin="round" clip-path="url(#cb)"/>
<path d="M36.00,578.73 L36.70,577.84 L37.40,576.82 L38.10,575.68 L38.80,574.43 L39.50,573.08 L40.20,571.66 L40.90,570.16 L41.60,568.62 L42.30,567.05 L43.00,565.44 L43.70,563.82 L44.40,562.18" fill="none" stroke="#d81e1e" stroke-width="2.38" stroke-linejoin="round" stroke-linecap="round" clip-path="url(#cb)"/>
<path d="M44.40,562.18 L45.10,560.54 L45.80,558.89 L46.50,557.23 L47.20,555.57 L47.90,553.91 L48.60,552.25 L49.30,550.57 L50.00,548.89 L50.70,547.20 L51.40,545.50 L52.10,543.79 L52.80,542.06" fill="none" stroke="#d81e1e" stroke-width="2.38" stroke-linejoin="round" stroke-linecap="round" clip-path="url(#cb)"/>
<path d="M52.80,542.06 L53.50,540.31 L54.20,538.55 L54.90,536.77 L55.60,534.97 L56.30,533.15 L57.00,531.33 L57.70,529.49 L58.40,527.64 L59.10,525.78 L59.80,523.91 L60.50,522.05 L61.20,520.18" fill="none" stroke="#d81e1e" stroke-width="2.38" stroke-linejoin="round" stroke-linecap="round" clip-path="url(#cb)"/>
<path d="M61.20,520.18 L61.90,518.31 L62.60,516.44 L63.30,514.63 L64.00,512.79 L64.70,510.85 L65.40,508.85 L66.10,506.91 L66.80,505.16 L67.50,503.59 L68.20,501.99 L68.90,500.18 L69.60,498.12" fill="none" stroke="#d81e1e" stroke-width="2.37" stroke-linejoin="round" stroke-linecap="round" clip-path="url(#cb)"/>
<path d="M69.60,498.12 L70.30,496.02 L71.00,494.20 L71.70,492.79 L72.40,491.62 L73.10,490.26 L73.80,488.51 L74.50,486.48 L75.20,484.53 L75.90,482.98 L76.60,481.86 L77.30,480.87 L78.00,479.64" fill="none" stroke="#d81e1e" stroke-width="2.37" stroke-linejoin="round" stroke-linecap="round" clip-path="url(#cb)"/>
<path d="M78.00,479.64 L78.70,478.01 L79.40,476.14 L80.10,474.40 L80.80,473.08 L81.50,472.15 L82.20,471.30 L82.90,470.15 L83.60,468.59 L84.30,466.83 L85.00,465.23 L85.70,464.06 L86.40,463.23" fill="none" stroke="#d81e1e" stroke-width="2.37" stroke-linejoin="round" stroke-linecap="round" clip-path="url(#cb)"/>
<path d="M86.40,463.23 L87.10,462.39 L87.80,461.22 L88.50,459.62 L89.20,457.86 L89.90,456.30 L90.60,455.18 L91.30,454.36 L92.00,453.49 L92.70,452.26 L93.40,450.64 L94.10,448.93 L94.80,447.50" fill="none" stroke="#d81e1e" stroke-width="2.36" stroke-linejoin="round" stroke-linecap="round" clip-path="url(#cb)"/>
<path d="M94.80,447.50 L95.50,446.53 L96.20,445.83 L96.90,445.05 L97.60,443.89 L98.30,442.38 L99.00,440.83 L99.70,439.59 L100.40,438.80 L101.10,438.23 L101.80,437.51 L102.50,436.39 L103.20,434.93" fill="none" stroke="#d81e1e" stroke-width="2.36" stroke-linejoin="round" stroke-linecap="round" clip-path="url(#cb)"/>
<path d="M103.20,434.93 L103.90,433.48 L104.60,432.37 L105.30,431.69 L106.00,431.18 L106.70,430.46 L107.40,429.31 L108.10,427.87 L108.80,426.49 L109.50,425.48 L110.20,424.88 L110.90,424.40 L111.60,423.66" fill="none" stroke="#d81e1e" stroke-width="2.36" stroke-linejoin="round" stroke-linecap="round" clip-path="url(#cb)"/>
<path d="M111.60,423.66 L112.30,422.50 L113.00,421.08 L113.70,419.79 L114.40,418.90 L115.10,418.41 L115.80,417.98 L116.50,417.26 L117.20,416.13 L117.90,414.79 L118.60,413.63 L119.30,412.90 L120.00,412.52" fill="none" stroke="#d81e1e" stroke-width="2.35" stroke-linejoin="round" stroke-linecap="round" clip-path="url(#cb)"/>
<path d="M120.00,412.52 L120.70,412.15 L121.40,411.45 L122.10,410.33 L122.80,409.06 L123.50,408.02 L124.20,407.40 L124.90,407.10 L125.60,406.76 L126.30,406.05 L127.00,404.95 L127.70,403.76 L128.40,402.84" fill="none" stroke="#d81e1e" stroke-width="2.35" stroke-linejoin="round" stroke-linecap="round" clip-path="url(#cb)"/>
<path d="M128.40,402.84 L129.10,402.37 L129.80,402.17 L130.50,401.87 L131.20,401.20 L131.90,400.17 L132.60,399.11 L133.30,398.37 L134.00,398.08 L134.70,398.03 L135.40,397.84 L136.10,397.26 L136.80,396.35" fill="none" stroke="#d81e1e" stroke-width="2.34" stroke-linejoin="round" stroke-linecap="round" clip-path="url(#cb)"/>
<path d="M136.80,396.35 L137.50,395.47 L138.20,394.95 L138.90,394.86 L139.60,394.95 L140.30,394.85 L141.00,394.33 L141.70,393.51 L142.40,392.77 L143.10,392.40 L143.80,392.44 L144.50,392.61 L145.20,392.51" fill="none" stroke="#d81e1e" stroke-width="2.34" stroke-linejoin="round" stroke-linecap="round" clip-path="url(#cb)"/>
<path d="M145.20,392.51 L145.90,392.00 L146.60,391.23 L147.30,390.58 L148.00,390.33 L148.70,390.46 L149.40,390.65 L150.10,390.55 L150.80,390.02 L151.50,389.28 L152.20,388.72 L152.90,388.57 L153.60,388.77" fill="none" stroke="#d81e1e" stroke-width="2.34" stroke-linejoin="round" stroke-linecap="round" clip-path="url(#cb)"/>
<path d="M153.60,388.77 L154.30,388.97 L155.00,388.84 L155.70,388.30 L156.40,387.60 L157.10,387.12 L157.80,387.07 L158.50,387.34 L159.20,387.57 L159.90,387.43 L160.60,386.91 L161.30,386.29 L162.00,385.95" fill="none" stroke="#d81e1e" stroke-width="2.33" stroke-linejoin="round" stroke-linecap="round" clip-path="url(#cb)"/>
<path d="M162.00,385.95 L162.70,386.08 L170.00,384.58 L170.70,384.44" fill="none" stroke="#d81e1e" stroke-width="2.33" stroke-linejoin="round" stroke-linecap="round" clip-path="url(#cb)"/>
<path d="M170.70,384.44 L171.40,384.36 L172.10,384.30 L172.80,384.21 L173.50,384.11 L174.20,384.01 L174.90,383.91 L175.60,383.81 L176.30,383.72 L177.00,383.62 L177.70,383.52 L178.40,383.42 L179.10,383.33" fill="none" stroke="#d81e1e" stroke-width="2.33" stroke-linejoin="round" stroke-linecap="round" clip-path="url(#cb)"/>
<path d="M179.10,383.33 L179.80,383.24 L180.50,383.15 L181.20,383.08 L181.90,383.01 L182.60,382.94 L183.30,382.88 L184.00,382.82 L184.70,382.76 L185.40,382.70 L186.10,382.65 L186.80,382.59 L187.50,382.53" fill="none" stroke="#d81e1e" stroke-width="2.32" stroke-linejoin="round" stroke-linecap="round" clip-path="url(#cb)"/>
<path d="M187.50,382.53 L188.20,382.47 L188.90,382.41 L189.60,382.35 L190.30,382.30 L191.00,382.24 L191.70,382.20 L192.40,382.15 L193.10,382.11 L193.80,382.07 L194.50,382.03 L195.20,381.99 L195.90,381.95" fill="none" stroke="#d81e1e" stroke-width="2.32" stroke-linejoin="round" stroke-linecap="round" clip-path="url(#cb)"/>
<path d="M195.90,381.95 L196.60,381.91 L197.30,381.87 L198.00,381.83 L198.70,381.79 L199.40,381.75 L200.10,381.72 L200.80,381.69 L201.50,381.68 L202.20,381.68 L202.90,381.71 L203.60,381.75 L204.30,381.81" fill="none" stroke="#d81e1e" stroke-width="2.32" stroke-linejoin="round" stroke-linecap="round" clip-path="url(#cb)"/>
<path d="M204.30,381.81 L205.00,381.87 L205.70,381.93 L206.40,381.98 L207.10,382.02 L207.80,382.02 L208.50,381.98 L209.20,381.88 L209.90,381.72 L210.60,381.54 L211.30,381.34 L212.00,381.15 L212.70,380.98" fill="none" stroke="#d81e1e" stroke-width="2.31" stroke-linejoin="round" stroke-linecap="round" clip-path="url(#cb)"/>
<path d="M212.70,380.98 L213.40,380.84 L214.10,380.74 L214.80,380.66 L215.50,380.59 L216.20,380.53 L216.90,380.47 L217.60,380.41 L218.30,380.35 L219.00,380.29 L219.70,380.23 L220.40,380.15 L221.10,380.06" fill="none" stroke="#d81e1e" stroke-width="2.31" stroke-linejoin="round" stroke-linecap="round" clip-path="url(#cb)"/>
<path d="M221.10,380.06 L221.80,379.94 L222.50,379.81 L223.20,379.65 L223.90,379.49 L224.60,379.30 L225.30,379.08 L226.00,378.79 L226.70,378.40 L227.40,377.89 L228.10,377.31 L228.80,376.68 L229.50,376.08" fill="none" stroke="#d81e1e" stroke-width="2.31" stroke-linejoin="round" stroke-linecap="round" clip-path="url(#cb)"/>
<path d="M229.50,376.08 L230.20,375.54 L230.90,375.10 L231.60,374.72 L232.30,374.39 L233.00,374.06 L233.70,373.69 L234.40,373.26 L235.10,372.77 L235.80,372.23 L236.50,371.65 L237.20,371.07 L237.90,370.50" fill="none" stroke="#d81e1e" stroke-width="2.30" stroke-linejoin="round" stroke-linecap="round" clip-path="url(#cb)"/>
<path d="M237.90,370.50 L238.60,369.97 L239.30,369.47 L240.00,369.03 L240.70,368.61 L241.40,368.24 L242.10,367.92 L242.80,367.68 L247.70,362.00" fill="none" stroke="#d81e1e" stroke-width="2.34" stroke-linejoin="round" stroke-linecap="round" clip-path="url(#cb)"/>
<path d="M247.70,362.00 L251.10,362.00 L254.60,359.00 L256.30,359.90" fill="none" stroke="#d81e1e" stroke-width="2.48" stroke-linejoin="round" stroke-linecap="round" clip-path="url(#cb)"/>
<path d="M256.30,359.90 L258.60,360.30 L260.70,363.10 L262.30,367.80 L264.60,362.50" fill="none" stroke="#d81e1e" stroke-width="2.60" stroke-linejoin="round" stroke-linecap="round" clip-path="url(#cb)"/>
<path d="M264.60,362.50 L265.70,363.80 L267.90,375.00 L270.20,367.20 L271.40,369.50 L274.40,382.50" fill="none" stroke="#d81e1e" stroke-width="2.60" stroke-linejoin="round" stroke-linecap="round" clip-path="url(#cb)"/>
<path d="M274.40,382.50 L276.20,377.80 L277.10,380.90 L279.00,393.50 L281.60,384.50 L282.60,390.00" fill="none" stroke="#d81e1e" stroke-width="2.60" stroke-linejoin="round" stroke-linecap="round" clip-path="url(#cb)"/>
<path d="M282.60,390.00 L284.60,408.00 L287.60,400.80 L288.60,404.00 L291.00,414.50" fill="none" stroke="#d81e1e" stroke-width="2.60" stroke-linejoin="round" stroke-linecap="round" clip-path="url(#cb)"/>
<path d="M291.00,414.50 L294.40,404.60 L295.50,409.00 L298.70,426.30 L301.70,428.20" fill="none" stroke="#d81e1e" stroke-width="2.60" stroke-linejoin="round" stroke-linecap="round" clip-path="url(#cb)"/>
<path d="M301.70,428.20 L303.00,429.50 L306.80,456.20 L309.90,467.20" fill="none" stroke="#d81e1e" stroke-width="2.60" stroke-linejoin="round" stroke-linecap="round" clip-path="url(#cb)"/>
<path d="M309.90,467.20 L313.10,479.00 L318.90,458.50" fill="none" stroke="#d81e1e" stroke-width="2.60" stroke-linejoin="round" stroke-linecap="round" clip-path="url(#cb)"/>
<path d="M318.90,458.50 L320.90,476.60 L323.30,500.00 L325.80,534.00 L330.50,564.50" fill="none" stroke="#d81e1e" stroke-width="2.60" stroke-linejoin="round" stroke-linecap="round" clip-path="url(#cb)"/>
<path d="M330.50,564.50 L335.60,598.40 L341.50,524.00" fill="none" stroke="#d81e1e" stroke-width="2.60" stroke-linejoin="round" stroke-linecap="round" clip-path="url(#cb)"/>
<path d="M341.50,524.00 L347.50,449.00 L350.00,417.00" fill="none" stroke="#d81e1e" stroke-width="2.60" stroke-linejoin="round" stroke-linecap="round" clip-path="url(#cb)"/>
<defs><clipPath id="cdip"><rect x="260.60" y="364" width="3.4" height="14"/><rect x="266.20" y="371" width="3.4" height="16"/><rect x="272.70" y="379" width="3.4" height="16"/><rect x="277.30" y="386" width="3.4" height="21"/><rect x="289.30" y="409" width="3.4" height="21"/></clipPath></defs>
<g clip-path="url(#cdip)"><path d="M32.20,578.73 L32.90,577.84 L33.60,576.82 L34.30,575.68 L35.00,574.43 L35.70,573.08 L36.40,571.66 L37.10,570.16 L37.80,568.62 L38.50,567.05 L39.20,565.44 L39.90,563.82 L40.60,562.18 L41.30,560.54 L42.00,558.89 L42.70,557.23 L43.40,555.57 L44.10,553.91 L44.80,552.25 L45.50,550.57 L46.20,548.89 L46.90,547.20 L47.60,545.50 L48.30,543.79 L49.00,542.06 L49.70,540.31 L50.40,538.55 L51.10,536.77 L51.80,534.97 L52.50,533.15 L53.20,531.33 L53.90,529.49 L54.60,527.64 L55.30,525.78 L56.00,523.91 L56.67,522.05 L57.32,520.18 L57.97,518.31 L58.63,516.44 L59.28,514.63 L59.93,512.79 L60.59,510.85 L61.24,508.85 L61.89,506.91 L62.55,505.16 L63.20,503.59 L63.85,501.99 L64.51,500.18 L65.16,498.12 L65.81,496.02 L66.47,494.20 L67.12,492.79 L67.77,491.62 L68.43,490.26 L69.08,488.51 L69.73,486.48 L70.38,484.53 L71.00,482.98 L71.62,481.86 L72.24,480.87 L72.86,479.64 L73.48,478.01 L74.10,476.14 L74.72,474.40 L75.34,473.08 L75.96,472.15 L76.58,471.30 L77.20,470.15 L77.83,468.59 L78.45,466.83 L79.07,465.23 L79.69,464.06 L80.31,463.23 L80.93,462.39 L81.55,461.22 L82.17,459.62 L82.79,457.86 L83.41,456.30 L84.07,455.15 L84.74,454.30 L85.40,453.39 L86.07,452.13 L86.73,450.48 L87.40,448.74 L88.06,447.27 L88.73,446.26 L89.39,445.54 L90.06,444.72 L90.72,443.53 L91.39,441.98 L92.05,440.39 L92.72,439.13 L93.38,438.30 L94.05,437.70 L94.71,436.95 L95.38,435.79 L96.04,434.30 L96.71,432.81 L97.37,431.67 L98.04,430.96 L98.70,430.41 L99.37,429.66 L100.03,428.48 L100.70,427.00 L101.36,425.58 L102.03,424.55 L102.71,423.91 L103.45,423.39 L104.18,422.62 L104.92,421.42 L105.65,419.98 L106.39,418.65 L107.12,417.73 L107.86,417.20 L108.59,416.76 L109.33,416.03 L110.06,414.89 L110.80,413.54 L111.53,412.38 L112.27,411.63 L113.00,411.24 L113.74,410.86 L114.47,410.14 L115.21,409.02 L115.94,407.74 L116.68,406.68 L117.41,406.06 L118.15,405.74 L118.88,405.39 L119.62,404.67 L120.35,403.56 L121.09,402.36 L121.82,401.43 L122.56,400.94 L123.29,400.73 L124.06,400.43 L124.85,399.74 L125.64,398.70 L126.43,397.63 L127.21,396.88 L128.00,396.58 L128.79,396.52 L129.58,396.31 L130.36,395.72 L131.15,394.80 L131.94,393.91 L132.73,393.38 L133.51,393.28 L134.30,393.36 L135.09,393.25 L135.88,392.75 L136.66,391.96 L137.45,391.23 L138.24,390.89 L139.03,390.95 L139.81,391.13 L140.60,391.05 L141.39,390.56 L142.18,389.80 L142.96,389.17 L143.75,388.94 L144.54,389.09 L145.33,389.31 L146.12,389.22 L146.95,388.71 L147.79,387.99 L148.62,387.44 L149.46,387.31 L150.29,387.53 L151.13,387.75 L151.96,387.64 L152.80,387.15 L153.63,386.51 L154.47,386.08 L155.30,386.10 L156.13,386.42 L156.97,386.70 L157.80,386.62 L158.64,386.15 L159.47,385.59 L160.31,385.31 L161.14,385.49 L170.00,384.82 L170.70,384.77 L171.40,384.78 L172.10,384.83 L172.80,384.96 L173.50,385.08 L174.20,385.20 L174.90,385.32 L175.60,385.44 L176.30,385.56 L177.00,385.68 L177.70,385.80 L178.40,385.92 L179.10,386.05 L179.80,386.18 L180.50,386.23 L181.20,386.26 L181.90,386.29 L182.60,386.33 L183.30,386.38 L184.00,386.42 L184.70,386.47 L185.40,386.51 L186.10,386.56 L186.80,386.61 L187.50,386.65 L188.20,386.70 L188.90,386.75 L189.60,386.79 L190.30,386.84 L191.00,386.89 L191.70,386.95 L192.40,387.01 L193.10,387.07 L193.80,387.14 L194.50,387.20 L195.20,387.27 L195.90,387.33 L196.60,387.40 L197.30,387.46 L198.00,387.53 L198.70,387.60 L199.40,387.66 L200.10,387.71 L200.80,387.64 L201.50,387.58 L202.20,387.54 L202.90,387.52 L203.60,387.51 L204.30,387.52 L205.00,387.53 L205.70,387.55 L206.40,387.56 L207.10,387.55 L207.80,387.50 L208.50,387.41 L209.20,387.26 L209.90,387.06 L210.60,386.83 L211.30,386.58 L212.00,386.35 L212.70,386.13 L213.40,385.95 L214.10,385.80 L214.80,385.67 L215.50,385.52 L216.20,385.37 L216.90,385.22 L217.60,385.07 L218.30,384.91 L219.00,384.76 L219.70,384.60 L220.40,384.43 L221.10,384.24 L221.80,384.04 L222.50,383.81 L223.20,383.56 L223.90,383.30 L224.60,383.02 L225.30,382.70 L226.00,382.32 L226.70,381.84 L227.40,381.24 L228.10,380.56 L228.80,379.84 L229.50,379.14 L230.20,378.54 L230.90,378.07 L231.60,377.68 L232.30,377.33 L233.00,376.98 L233.70,376.60 L234.40,376.15 L235.10,375.65 L235.80,375.08 L236.50,374.49 L237.20,373.89 L237.90,373.30 L238.60,372.75 L239.30,372.24 L240.00,371.78 L240.70,371.34 L241.40,370.95 L242.10,370.62 L242.80,370.36 L247.70,364.56 L251.10,364.50 L254.60,361.50 L256.30,362.40 L258.60,362.80 L260.70,365.60 L262.30,374.30 L264.60,365.00 L265.70,366.30 L267.90,383.50 L270.20,369.70 L271.40,372.00 L274.40,392.00 L276.20,380.30 L277.10,383.40 L279.00,405.00 L281.60,387.00 L282.60,392.50 L284.60,410.50 L287.60,403.30 L288.60,406.50 L291.00,427.00 L294.40,407.10 L295.50,411.50 L297.68,428.80 L298.88,430.67 L300.00,431.95 L303.80,458.59 L306.90,469.53 L310.10,481.28 L315.90,460.69 L318.57,478.75 L322.78,502.11 L327.12,536.07 L332.70,566.50 L336.63,600.40 L341.50,526.00 L347.50,451.00 L350.00,419.00" fill="none" stroke="#4a6ad0" stroke-width="1.0" stroke-linejoin="round"/><path d="M32.96,578.73 L33.66,577.84 L34.36,576.82 L35.06,575.68 L35.76,574.43 L36.46,573.08 L37.16,571.66 L37.86,570.16 L38.56,568.62 L39.26,567.05 L39.96,565.44 L40.66,563.82 L41.36,562.18 L42.06,560.54 L42.76,558.89 L43.46,557.23 L44.16,555.57 L44.86,553.91 L45.56,552.25 L46.26,550.57 L46.96,548.89 L47.66,547.20 L48.36,545.50 L49.06,543.79 L49.76,542.06 L50.46,540.31 L51.16,538.55 L51.86,536.77 L52.56,534.97 L53.26,533.15 L53.96,531.33 L54.66,529.49 L55.36,527.64 L56.06,525.78 L56.76,523.91 L57.43,522.05 L58.10,520.18 L58.76,518.31 L59.42,516.44 L60.08,514.63 L60.75,512.79 L61.41,510.85 L62.07,508.85 L62.73,506.91 L63.40,505.16 L64.06,503.59 L64.72,501.99 L65.39,500.18 L66.05,498.12 L66.71,496.02 L67.37,494.20 L68.04,492.79 L68.70,491.62 L69.36,490.26 L70.02,488.51 L70.69,486.48 L71.34,484.53 L71.98,482.98 L72.61,481.86 L73.25,480.87 L73.89,479.64 L74.52,478.01 L75.16,476.14 L75.80,474.40 L76.43,473.08 L77.07,472.15 L77.71,471.30 L78.34,470.15 L78.98,468.59 L79.62,466.83 L80.25,465.23 L80.89,464.06 L81.53,463.23 L82.16,462.39 L82.80,461.22 L83.44,459.62 L84.07,457.86 L84.71,456.30 L85.38,455.15 L86.05,454.31 L86.72,453.41 L87.39,452.15 L88.06,450.51 L88.74,448.78 L89.41,447.32 L90.08,446.32 L90.75,445.60 L91.42,444.79 L92.10,443.60 L92.77,442.06 L93.44,440.48 L94.11,439.22 L94.78,438.40 L95.46,437.81 L96.13,437.06 L96.80,435.91 L97.47,434.42 L98.14,432.94 L98.82,431.81 L99.49,431.10 L100.16,430.56 L100.83,429.82 L101.50,428.64 L102.18,427.17 L102.85,425.76 L103.52,424.73 L104.21,424.10 L104.94,423.59 L105.66,422.83 L106.39,421.64 L107.12,420.20 L107.85,418.88 L108.58,417.97 L109.30,417.44 L110.03,417.01 L110.76,416.28 L111.49,415.14 L112.22,413.79 L112.94,412.63 L113.67,411.89 L114.40,411.50 L115.13,411.12 L115.86,410.40 L116.58,409.28 L117.31,408.00 L118.04,406.95 L118.77,406.32 L119.50,406.02 L120.22,405.66 L120.95,404.94 L121.68,403.84 L122.41,402.64 L123.14,401.71 L123.86,401.22 L124.59,401.02 L125.35,400.72 L126.12,400.03 L126.89,399.00 L127.66,397.92 L128.43,397.18 L129.20,396.88 L129.97,396.82 L130.74,396.62 L131.51,396.03 L132.28,395.11 L133.05,394.22 L133.82,393.69 L134.59,393.59 L135.36,393.68 L136.13,393.57 L136.90,393.07 L137.67,392.27 L138.44,391.54 L139.21,391.19 L139.98,391.25 L140.75,391.42 L141.52,391.34 L142.29,390.84 L143.06,390.09 L143.83,389.45 L144.60,389.22 L145.37,389.37 L146.14,389.58 L146.92,389.48 L147.72,388.97 L148.53,388.25 L149.34,387.70 L150.15,387.56 L150.95,387.78 L151.76,388.00 L152.57,387.88 L153.38,387.38 L154.18,386.72 L154.99,386.29 L155.80,386.29 L156.61,386.61 L157.42,386.87 L158.22,386.78 L159.03,386.31 L159.84,385.73 L160.65,385.44 L161.45,385.61 L170.00,384.77 L170.70,384.70 L171.40,384.69 L172.10,384.73 L172.80,384.81 L173.50,384.88 L174.20,384.96 L174.90,385.04 L175.60,385.11 L176.30,385.19 L177.00,385.27 L177.70,385.35 L178.40,385.42 L179.10,385.50 L179.80,385.59 L180.50,385.61 L181.20,385.62 L181.90,385.64 L182.60,385.66 L183.30,385.68 L184.00,385.70 L184.70,385.73 L185.40,385.75 L186.10,385.78 L186.80,385.80 L187.50,385.83 L188.20,385.85 L188.90,385.88 L189.60,385.91 L190.30,385.93 L191.00,385.96 L191.70,386.00 L192.40,386.04 L193.10,386.08 L193.80,386.12 L194.50,386.17 L195.20,386.21 L195.90,386.26 L196.60,386.30 L197.30,386.35 L198.00,386.39 L198.70,386.44 L199.40,386.48 L200.10,386.51 L200.80,386.45 L201.50,386.40 L202.20,386.37 L202.90,386.36 L203.60,386.36 L204.30,386.38 L205.00,386.40 L205.70,386.42 L206.40,386.44 L207.10,386.44 L207.80,386.41 L208.50,386.33 L209.20,386.19 L209.90,386.00 L210.60,385.77 L211.30,385.53 L212.00,385.31 L212.70,385.10 L213.40,384.93 L214.10,384.79 L214.80,384.67 L215.50,384.54 L216.20,384.40 L216.90,384.27 L217.60,384.14 L218.30,384.00 L219.00,383.87 L219.70,383.73 L220.40,383.57 L221.10,383.41 L221.80,383.22 L222.50,383.01 L223.20,382.78 L223.90,382.54 L224.60,382.28 L225.30,381.98 L226.00,381.61 L226.70,381.15 L227.40,380.57 L228.10,379.91 L228.80,379.21 L229.50,378.53 L230.20,377.94 L230.90,377.48 L231.60,377.09 L232.30,376.74 L233.00,376.40 L233.70,376.01 L234.40,375.58 L235.10,375.07 L235.80,374.51 L236.50,373.92 L237.20,373.32 L237.90,372.74 L238.60,372.19 L239.30,371.69 L240.00,371.23 L240.70,370.80 L241.40,370.41 L242.10,370.08 L242.80,369.82 L247.70,364.05 L251.10,364.00 L254.60,361.00 L256.30,361.90 L258.60,362.30 L260.70,365.10 L262.30,373.00 L264.60,364.50 L265.70,365.80 L267.90,381.80 L270.20,369.20 L271.40,371.50 L274.40,390.10 L276.20,379.80 L277.10,382.90 L279.00,402.70 L281.60,386.50 L282.60,392.00 L284.60,410.00 L287.60,402.80 L288.60,406.00 L291.00,424.50 L294.40,406.60 L295.50,411.00 L297.88,428.30 L299.44,430.18 L300.60,431.46 L304.40,458.11 L307.50,469.07 L310.70,480.83 L316.50,460.25 L319.04,478.32 L322.88,501.69 L326.86,535.66 L332.26,566.10 L336.42,600.00 L341.50,525.60 L347.50,450.60 L350.00,418.60" fill="none" stroke="#d87040" stroke-width="1.3" stroke-linejoin="round"/><path d="M33.72,578.73 L34.42,577.84 L35.12,576.82 L35.82,575.68 L36.52,574.43 L37.22,573.08 L37.92,571.66 L38.62,570.16 L39.32,568.62 L40.02,567.05 L40.72,565.44 L41.42,563.82 L42.12,562.18 L42.82,560.54 L43.52,558.89 L44.22,557.23 L44.92,555.57 L45.62,553.91 L46.32,552.25 L47.02,550.57 L47.72,548.89 L48.42,547.20 L49.12,545.50 L49.82,543.79 L50.52,542.06 L51.22,540.31 L51.92,538.55 L52.62,536.77 L53.32,534.97 L54.02,533.15 L54.72,531.33 L55.42,529.49 L56.12,527.64 L56.82,525.78 L57.52,523.91 L58.20,522.05 L58.87,520.18 L59.54,518.31 L60.22,516.44 L60.89,514.63 L61.56,512.79 L62.23,510.85 L62.90,508.85 L63.58,506.91 L64.25,505.16 L64.92,503.59 L65.59,501.99 L66.26,500.18 L66.94,498.12 L67.61,496.02 L68.28,494.20 L68.95,492.79 L69.62,491.62 L70.30,490.26 L70.97,488.51 L71.64,486.48 L72.31,484.53 L72.96,482.98 L73.61,481.86 L74.26,480.87 L74.92,479.64 L75.57,478.01 L76.22,476.14 L76.87,474.40 L77.53,473.08 L78.18,472.15 L78.83,471.30 L79.48,470.15 L80.14,468.59 L80.79,466.83 L81.44,465.23 L82.09,464.06 L82.74,463.23 L83.40,462.39 L84.05,461.22 L84.70,459.62 L85.35,457.86 L86.01,456.30 L86.68,455.16 L87.36,454.32 L88.04,453.43 L88.72,452.18 L89.40,450.54 L90.08,448.81 L90.76,447.37 L91.44,446.37 L92.11,445.66 L92.79,444.85 L93.47,443.67 L94.15,442.14 L94.83,440.57 L95.51,439.31 L96.19,438.50 L96.87,437.91 L97.55,437.17 L98.23,436.03 L98.90,434.55 L99.58,433.08 L100.26,431.95 L100.94,431.25 L101.62,430.72 L102.30,429.98 L102.98,428.81 L103.66,427.35 L104.34,425.95 L105.02,424.92 L105.71,424.30 L106.43,423.79 L107.15,423.03 L107.87,421.85 L108.59,420.42 L109.31,419.11 L110.03,418.20 L110.75,417.68 L111.47,417.25 L112.20,416.52 L112.92,415.38 L113.64,414.04 L114.36,412.88 L115.08,412.14 L115.80,411.75 L116.52,411.38 L117.24,410.66 L117.96,409.55 L118.68,408.27 L119.41,407.21 L120.13,406.59 L120.85,406.29 L121.57,405.93 L122.29,405.22 L123.01,404.12 L123.73,402.92 L124.45,401.99 L125.17,401.51 L125.89,401.31 L126.64,401.00 L127.39,400.32 L128.14,399.29 L128.90,398.22 L129.65,397.48 L130.40,397.18 L131.15,397.12 L131.91,396.92 L132.66,396.33 L133.41,395.42 L134.16,394.53 L134.92,394.00 L135.67,393.91 L136.42,394.00 L137.17,393.89 L137.93,393.38 L138.68,392.58 L139.43,391.84 L140.18,391.49 L140.94,391.55 L141.69,391.72 L142.44,391.64 L143.19,391.13 L143.95,390.37 L144.70,389.73 L145.45,389.50 L146.20,389.64 L146.96,389.84 L147.71,389.75 L148.49,389.23 L149.27,388.51 L150.05,387.95 L150.83,387.82 L151.62,388.02 L152.40,388.24 L153.18,388.12 L153.96,387.61 L154.74,386.94 L155.52,386.50 L156.30,386.49 L157.08,386.79 L157.86,387.05 L158.64,386.94 L159.42,386.46 L160.20,385.87 L160.98,385.56 L161.77,385.73 L170.00,384.72 L170.70,384.64 L171.40,384.61 L172.10,384.62 L172.80,384.66 L173.50,384.69 L174.20,384.72 L174.90,384.76 L175.60,384.79 L176.30,384.82 L177.00,384.86 L177.70,384.89 L178.40,384.92 L179.10,384.96 L179.80,385.00 L180.50,385.00 L181.20,384.99 L181.90,384.98 L182.60,384.98 L183.30,384.98 L184.00,384.98 L184.70,384.99 L185.40,384.99 L186.10,384.99 L186.80,385.00 L187.50,385.00 L188.20,385.01 L188.90,385.01 L189.60,385.02 L190.30,385.02 L191.00,385.03 L191.70,385.05 L192.40,385.07 L193.10,385.09 L193.80,385.11 L194.50,385.13 L195.20,385.15 L195.90,385.18 L196.60,385.20 L197.30,385.23 L198.00,385.25 L198.70,385.27 L199.40,385.30 L200.10,385.32 L200.80,385.26 L201.50,385.22 L202.20,385.20 L202.90,385.19 L203.60,385.21 L204.30,385.24 L205.00,385.27 L205.70,385.30 L206.40,385.33 L207.10,385.34 L207.80,385.31 L208.50,385.24 L209.20,385.11 L209.90,384.93 L210.60,384.71 L211.30,384.48 L212.00,384.27 L212.70,384.07 L213.40,383.91 L214.10,383.77 L214.80,383.67 L215.50,383.55 L216.20,383.43 L216.90,383.32 L217.60,383.20 L218.30,383.09 L219.00,382.97 L219.70,382.85 L220.40,382.72 L221.10,382.57 L221.80,382.40 L222.50,382.21 L223.20,382.00 L223.90,381.77 L224.60,381.53 L225.30,381.25 L226.00,380.91 L226.70,380.46 L227.40,379.90 L228.10,379.26 L228.80,378.58 L229.50,377.92 L230.20,377.34 L230.90,376.88 L231.60,376.50 L232.30,376.15 L233.00,375.81 L233.70,375.43 L234.40,375.00 L235.10,374.50 L235.80,373.94 L236.50,373.35 L237.20,372.76 L237.90,372.18 L238.60,371.64 L239.30,371.14 L240.00,370.68 L240.70,370.25 L241.40,369.87 L242.10,369.54 L242.80,369.28 L247.70,363.53 L251.10,363.50 L254.60,360.50 L256.30,361.40 L258.60,361.80 L260.70,364.60 L262.30,371.70 L264.60,364.00 L265.70,365.30 L267.90,380.10 L270.20,368.70 L271.40,371.00 L274.40,388.20 L276.20,379.30 L277.10,382.40 L279.00,400.40 L281.60,386.00 L282.60,391.50 L284.60,409.50 L287.60,402.30 L288.60,405.50 L291.00,422.00 L294.40,406.10 L295.50,410.50 L298.09,427.80 L300.01,429.68 L301.20,430.97 L305.00,457.63 L308.10,468.60 L311.30,480.37 L317.10,459.81 L319.50,477.89 L322.99,501.27 L326.59,535.24 L331.82,565.70 L336.22,599.60 L341.50,525.20 L347.50,450.20 L350.00,418.20" fill="none" stroke="#8c8c8c" stroke-width="1.3" stroke-linejoin="round"/><path d="M34.48,578.73 L35.18,577.84 L35.88,576.82 L36.58,575.68 L37.28,574.43 L37.98,573.08 L38.68,571.66 L39.38,570.16 L40.08,568.62 L40.78,567.05 L41.48,565.44 L42.18,563.82 L42.88,562.18 L43.58,560.54 L44.28,558.89 L44.98,557.23 L45.68,555.57 L46.38,553.91 L47.08,552.25 L47.78,550.57 L48.48,548.89 L49.18,547.20 L49.88,545.50 L50.58,543.79 L51.28,542.06 L51.98,540.31 L52.68,538.55 L53.38,536.77 L54.08,534.97 L54.78,533.15 L55.48,531.33 L56.18,529.49 L56.88,527.64 L57.58,525.78 L58.28,523.91 L58.97,522.05 L59.65,520.18 L60.33,518.31 L61.01,516.44 L61.69,514.63 L62.37,512.79 L63.05,510.85 L63.74,508.85 L64.42,506.91 L65.10,505.16 L65.78,503.59 L66.46,501.99 L67.14,500.18 L67.82,498.12 L68.51,496.02 L69.19,494.20 L69.87,492.79 L70.55,491.62 L71.23,490.26 L71.91,488.51 L72.59,486.48 L73.27,484.53 L73.94,482.98 L74.61,481.86 L75.28,480.87 L75.94,479.64 L76.61,478.01 L77.28,476.14 L77.95,474.40 L78.62,473.08 L79.29,472.15 L79.95,471.30 L80.62,470.15 L81.29,468.59 L81.96,466.83 L82.63,465.23 L83.29,464.06 L83.96,463.23 L84.63,462.39 L85.30,461.22 L85.97,459.62 L86.64,457.86 L87.30,456.30 L87.99,455.17 L88.67,454.33 L89.36,453.45 L90.05,452.21 L90.73,450.58 L91.42,448.85 L92.10,447.41 L92.79,446.42 L93.48,445.72 L94.16,444.92 L94.85,443.75 L95.53,442.22 L96.22,440.65 L96.91,439.41 L97.59,438.60 L98.28,438.02 L98.96,437.29 L99.65,436.15 L100.34,434.68 L101.02,433.21 L101.71,432.09 L102.39,431.40 L103.08,430.87 L103.77,430.14 L104.45,428.98 L105.14,427.52 L105.82,426.13 L106.51,425.11 L107.20,424.49 L107.92,423.99 L108.63,423.24 L109.35,422.07 L110.06,420.64 L110.77,419.33 L111.49,418.44 L112.20,417.93 L112.92,417.49 L113.63,416.77 L114.34,415.63 L115.06,414.29 L115.77,413.13 L116.49,412.39 L117.20,412.01 L117.91,411.63 L118.63,410.93 L119.34,409.81 L120.06,408.53 L120.77,407.48 L121.48,406.86 L122.20,406.56 L122.91,406.21 L123.63,405.50 L124.34,404.40 L125.05,403.20 L125.77,402.27 L126.48,401.79 L127.20,401.59 L127.93,401.29 L128.66,400.62 L129.40,399.58 L130.13,398.52 L130.87,397.77 L131.60,397.48 L132.34,397.43 L133.07,397.23 L133.81,396.64 L134.54,395.73 L135.28,394.84 L136.01,394.32 L136.75,394.23 L137.48,394.32 L138.22,394.21 L138.95,393.70 L139.69,392.89 L140.42,392.15 L141.16,391.80 L141.89,391.85 L142.63,392.01 L143.36,391.93 L144.10,391.42 L144.83,390.66 L145.57,390.01 L146.30,389.77 L147.04,389.91 L147.77,390.11 L148.51,390.02 L149.26,389.50 L150.02,388.77 L150.77,388.21 L151.52,388.07 L152.28,388.27 L153.03,388.48 L153.78,388.36 L154.54,387.84 L155.29,387.16 L156.05,386.70 L156.80,386.68 L157.55,386.97 L158.31,387.22 L159.06,387.11 L159.82,386.61 L160.57,386.01 L161.32,385.69 L162.08,385.84 L170.00,384.68 L170.70,384.57 L171.40,384.53 L172.10,384.51 L172.80,384.51 L173.50,384.50 L174.20,384.49 L174.90,384.48 L175.60,384.46 L176.30,384.45 L177.00,384.44 L177.70,384.43 L178.40,384.42 L179.10,384.42 L179.80,384.41 L180.50,384.38 L181.20,384.35 L181.90,384.32 L182.60,384.30 L183.30,384.28 L184.00,384.26 L184.70,384.25 L185.40,384.23 L186.10,384.21 L186.80,384.19 L187.50,384.18 L188.20,384.16 L188.90,384.14 L189.60,384.13 L190.30,384.12 L191.00,384.10 L191.70,384.10 L192.40,384.09 L193.10,384.09 L193.80,384.09 L194.50,384.10 L195.20,384.10 L195.90,384.10 L196.60,384.10 L197.30,384.11 L198.00,384.11 L198.70,384.11 L199.40,384.12 L200.10,384.12 L200.80,384.07 L201.50,384.04 L202.20,384.03 L202.90,384.03 L203.60,384.06 L204.30,384.09 L205.00,384.13 L205.70,384.18 L206.40,384.21 L207.10,384.23 L207.80,384.22 L208.50,384.15 L209.20,384.03 L209.90,383.86 L210.60,383.65 L211.30,383.44 L212.00,383.23 L212.70,383.04 L213.40,382.89 L214.10,382.76 L214.80,382.66 L215.50,382.56 L216.20,382.47 L216.90,382.37 L217.60,382.27 L218.30,382.18 L219.00,382.08 L219.70,381.98 L220.40,381.86 L221.10,381.73 L221.80,381.58 L222.50,381.41 L223.20,381.22 L223.90,381.01 L224.60,380.79 L225.30,380.53 L226.00,380.20 L226.70,379.77 L227.40,379.23 L228.10,378.61 L228.80,377.94 L229.50,377.30 L230.20,376.74 L230.90,376.29 L231.60,375.91 L232.30,375.57 L233.00,375.23 L233.70,374.85 L234.40,374.42 L235.10,373.92 L235.80,373.37 L236.50,372.79 L237.20,372.19 L237.90,371.62 L238.60,371.08 L239.30,370.58 L240.00,370.13 L240.70,369.71 L241.40,369.32 L242.10,369.00 L242.80,368.75 L247.70,363.02 L251.10,363.00 L254.60,360.00 L256.30,360.90 L258.60,361.30 L260.70,364.10 L262.30,370.40 L264.60,363.50 L265.70,364.80 L267.90,378.40 L270.20,368.20 L271.40,370.50 L274.40,386.30 L276.20,378.80 L277.10,381.90 L279.00,398.10 L281.60,385.50 L282.60,391.00 L284.60,409.00 L287.60,401.80 L288.60,405.00 L291.00,419.50 L294.40,405.60 L295.50,410.00 L298.29,427.30 L300.57,429.19 L301.80,430.48 L305.60,457.15 L308.70,468.13 L311.90,479.91 L317.70,459.37 L319.97,477.46 L323.09,500.84 L326.33,534.83 L331.38,565.30 L336.01,599.20 L341.50,524.80 L347.50,449.80 L350.00,417.80" fill="none" stroke="#3cb371" stroke-width="1.3" stroke-linejoin="round"/><path d="M35.24,578.73 L35.94,577.84 L36.64,576.82 L37.34,575.68 L38.04,574.43 L38.74,573.08 L39.44,571.66 L40.14,570.16 L40.84,568.62 L41.54,567.05 L42.24,565.44 L42.94,563.82 L43.64,562.18 L44.34,560.54 L45.04,558.89 L45.74,557.23 L46.44,555.57 L47.14,553.91 L47.84,552.25 L48.54,550.57 L49.24,548.89 L49.94,547.20 L50.64,545.50 L51.34,543.79 L52.04,542.06 L52.74,540.31 L53.44,538.55 L54.14,536.77 L54.84,534.97 L55.54,533.15 L56.24,531.33 L56.94,529.49 L57.64,527.64 L58.34,525.78 L59.04,523.91 L59.73,522.05 L60.42,520.18 L61.11,518.31 L61.81,516.44 L62.50,514.63 L63.19,512.79 L63.88,510.85 L64.57,508.85 L65.26,506.91 L65.95,505.16 L66.64,503.59 L67.33,501.99 L68.02,500.18 L68.71,498.12 L69.40,496.02 L70.09,494.20 L70.78,492.79 L71.47,491.62 L72.17,490.26 L72.86,488.51 L73.55,486.48 L74.24,484.53 L74.92,482.98 L75.60,481.86 L76.29,480.87 L76.97,479.64 L77.66,478.01 L78.34,476.14 L79.02,474.40 L79.71,473.08 L80.39,472.15 L81.08,471.30 L81.76,470.15 L82.45,468.59 L83.13,466.83 L83.81,465.23 L84.50,464.06 L85.18,463.23 L85.87,462.39 L86.55,461.22 L87.23,459.62 L87.92,457.86 L88.60,456.30 L89.29,455.17 L89.99,454.35 L90.68,453.47 L91.37,452.23 L92.07,450.61 L92.76,448.89 L93.45,447.46 L94.15,446.47 L94.84,445.77 L95.53,444.99 L96.22,443.82 L96.92,442.30 L97.61,440.74 L98.30,439.50 L99.00,438.70 L99.69,438.13 L100.38,437.40 L101.08,436.27 L101.77,434.80 L102.46,433.34 L103.15,432.23 L103.85,431.54 L104.54,431.03 L105.23,430.30 L105.93,429.15 L106.62,427.70 L107.31,426.31 L108.01,425.29 L108.70,424.69 L109.41,424.20 L110.12,423.45 L110.82,422.28 L111.53,420.86 L112.24,419.56 L112.94,418.67 L113.65,418.17 L114.36,417.73 L115.07,417.01 L115.77,415.88 L116.48,414.54 L117.19,413.38 L117.89,412.65 L118.60,412.27 L119.31,411.89 L120.01,411.19 L120.72,410.07 L121.43,408.80 L122.14,407.75 L122.84,407.13 L123.55,406.83 L124.26,406.48 L124.96,405.77 L125.67,404.67 L126.38,403.48 L127.08,402.56 L127.79,402.08 L128.50,401.88 L129.21,401.58 L129.93,400.91 L130.65,399.88 L131.37,398.81 L132.08,398.07 L132.80,397.78 L133.52,397.73 L134.24,397.53 L134.95,396.95 L135.67,396.04 L136.39,395.16 L137.11,394.63 L137.82,394.54 L138.54,394.63 L139.26,394.53 L139.98,394.01 L140.69,393.20 L141.41,392.46 L142.13,392.10 L142.85,392.14 L143.56,392.31 L144.28,392.22 L145.00,391.71 L145.72,390.94 L146.43,390.30 L147.15,390.05 L147.87,390.19 L148.59,390.38 L149.30,390.28 L150.03,389.76 L150.76,389.03 L151.48,388.46 L152.21,388.32 L152.94,388.52 L153.67,388.73 L154.39,388.60 L155.12,388.07 L155.85,387.38 L156.57,386.91 L157.30,386.88 L158.03,387.16 L158.75,387.39 L159.48,387.27 L160.21,386.76 L160.93,386.15 L161.66,385.82 L162.39,385.96 L170.00,384.63 L170.70,384.50 L171.40,384.44 L172.10,384.41 L172.80,384.36 L173.50,384.30 L174.20,384.25 L174.90,384.19 L175.60,384.14 L176.30,384.09 L177.00,384.03 L177.70,383.98 L178.40,383.92 L179.10,383.87 L179.80,383.83 L180.50,383.77 L181.20,383.71 L181.90,383.66 L182.60,383.62 L183.30,383.58 L184.00,383.54 L184.70,383.50 L185.40,383.47 L186.10,383.43 L186.80,383.39 L187.50,383.35 L188.20,383.32 L188.90,383.28 L189.60,383.24 L190.30,383.21 L191.00,383.17 L191.70,383.15 L192.40,383.12 L193.10,383.10 L193.80,383.08 L194.50,383.06 L195.20,383.04 L195.90,383.02 L196.60,383.01 L197.30,382.99 L198.00,382.97 L198.70,382.95 L199.40,382.94 L200.10,382.92 L200.80,382.88 L201.50,382.86 L202.20,382.86 L202.90,382.87 L203.60,382.91 L204.30,382.95 L205.00,383.00 L205.70,383.05 L206.40,383.10 L207.10,383.13 L207.80,383.12 L208.50,383.07 L209.20,382.95 L209.90,382.79 L210.60,382.59 L211.30,382.39 L212.00,382.19 L212.70,382.01 L213.40,381.86 L214.10,381.75 L214.80,381.66 L215.50,381.58 L216.20,381.50 L216.90,381.42 L217.60,381.34 L218.30,381.27 L219.00,381.19 L219.70,381.10 L220.40,381.01 L221.10,380.89 L221.80,380.76 L222.50,380.61 L223.20,380.44 L223.90,380.25 L224.60,380.04 L225.30,379.80 L226.00,379.49 L226.70,379.08 L227.40,378.56 L228.10,377.96 L228.80,377.31 L229.50,376.69 L230.20,376.14 L230.90,375.69 L231.60,375.31 L232.30,374.98 L233.00,374.64 L233.70,374.27 L234.40,373.84 L235.10,373.35 L235.80,372.80 L236.50,372.22 L237.20,371.63 L237.90,371.06 L238.60,370.52 L239.30,370.03 L240.00,369.58 L240.70,369.16 L241.40,368.78 L242.10,368.46 L242.80,368.21 L247.70,362.51 L251.10,362.50 L254.60,359.50 L256.30,360.40 L258.60,360.80 L260.70,363.60 L262.30,369.10 L264.60,363.00 L265.70,364.30 L267.90,376.70 L270.20,367.70 L271.40,370.00 L274.40,384.40 L276.20,378.30 L277.10,381.40 L279.00,395.80 L281.60,385.00 L282.60,390.50 L284.60,408.50 L287.60,401.30 L288.60,404.50 L291.00,417.00 L294.40,405.10 L295.50,409.50 L298.50,426.80 L301.14,428.69 L302.40,429.99 L306.20,456.68 L309.30,467.67 L312.50,479.46 L318.30,458.94 L320.43,477.03 L323.19,500.42 L326.06,534.41 L330.94,564.90 L335.81,598.80 L341.50,524.40 L347.50,449.40 L350.00,417.40" fill="none" stroke="#5a4fb0" stroke-width="1.3" stroke-linejoin="round"/></g>
<line x1="91.70" y1="154.30" x2="54.31" y2="85.23" stroke="#333" stroke-width="0.8"/>
<path d="M48.50,74.50 L58.95,84.76 L54.31,85.23 L51.38,88.86 Z" fill="#000"/>
<line x1="305.70" y1="127.60" x2="223.77" y2="174.90" stroke="#333" stroke-width="0.8"/>
<path d="M213.20,181.00 L223.17,170.28 L223.77,174.90 L227.47,177.72 Z" fill="#000"/>
<line x1="50.80" y1="435.40" x2="94.40" y2="514.32" stroke="#333" stroke-width="0.8"/>
<path d="M100.30,525.00 L89.77,514.83 L94.40,514.32 L97.29,510.67 Z" fill="#000"/>
<line x1="260.90" y1="465.10" x2="317.51" y2="414.44" stroke="#333" stroke-width="0.8"/>
<path d="M326.60,406.30 L319.04,418.84 L317.51,414.44 L313.30,412.43 Z" fill="#000"/>
<text x="85.50" y="168.60" font-size="11" fill="#333" style="font-family:'Liberation Serif',serif;font-style:italic;">x</text>
<text x="90.70" y="164.30" font-size="7.5" fill="#444" style="font-family:'Liberation Serif',serif;">+</text>
<text x="90.90" y="172.10" font-size="7.3" fill="#444" style="font-family:'Liberation Serif',serif;">2</text>
<path d="M99.00,170.20V162.60M97.30,164.80L99.00,162.20L100.70,164.80" stroke="#606060" stroke-width="0.95" fill="none"/>
<text x="274.20" y="124.20" font-size="11" fill="#333" style="font-family:'Liberation Serif',serif;font-style:italic;">x</text>
<text x="279.40" y="119.90" font-size="7.5" fill="#444" style="font-family:'Liberation Serif',serif;">+</text>
<text x="279.60" y="127.70" font-size="7.3" fill="#444" style="font-family:'Liberation Serif',serif;">2</text>
<path d="M287.70,125.80V118.20M286.00,120.40L287.70,117.80L289.40,120.40" stroke="#606060" stroke-width="0.95" fill="none"/>
<text x="77.20" y="536.00" font-size="11" fill="#333" style="font-family:'Liberation Serif',serif;font-style:italic;">x</text>
<text x="82.40" y="531.70" font-size="7.5" fill="#444" style="font-family:'Liberation Serif',serif;">+</text>
<text x="82.60" y="539.50" font-size="7.3" fill="#444" style="font-family:'Liberation Serif',serif;">2</text>
<path d="M90.70,537.60V530.00M89.00,532.20L90.70,529.60L92.40,532.20" stroke="#606060" stroke-width="0.95" fill="none"/>
<text x="267.70" y="486.60" font-size="11" fill="#333" style="font-family:'Liberation Serif',serif;font-style:italic;">x</text>
<text x="272.90" y="482.30" font-size="7.5" fill="#444" style="font-family:'Liberation Serif',serif;">+</text>
<text x="273.10" y="490.10" font-size="7.3" fill="#444" style="font-family:'Liberation Serif',serif;">2</text>
<path d="M281.20,488.20V480.60M279.50,482.80L281.20,480.20L282.90,482.80" stroke="#606060" stroke-width="0.95" fill="none"/>
<text x="4.2" y="10.1" font-size="12.3" fill="#1e1e1e" style="font-family:'Liberation Serif',serif;">(<tspan style="font-style:italic">a</tspan>)</text>
<text x="4.2" y="336.1" font-size="12.3" fill="#1e1e1e" style="font-family:'Liberation Serif',serif;">(<tspan style="font-style:italic">b</tspan>)</text>
<text x="191.00" y="315.60" font-size="11.5" fill="#1e1e1e" style="font-family:'Liberation Serif',serif;font-style:italic;">k</text>
<text x="196.31" y="318.10" font-size="8.3" fill="#1e1e1e" style="font-family:'Liberation Serif',serif;">1</text>
<text x="201.38" y="315.60" font-size="11.5" fill="#1e1e1e" style="font-family:'Liberation Serif',serif;font-style:italic;">δ</text>
<text x="183.96" y="641.60" font-size="11.5" fill="#1e1e1e" style="font-family:'Liberation Serif',serif;font-style:italic;">r</text>
<text x="188.56" y="644.10" font-size="8.3" fill="#1e1e1e" style="font-family:'Liberation Serif',serif;">1</text>
<text x="194.05" y="641.60" font-size="11.5" fill="#1e1e1e" style="font-family:'Liberation Serif',serif;">/</text>
<text x="198.53" y="641.60" font-size="11.5" fill="#1e1e1e" style="font-family:'Liberation Serif',serif;font-style:italic;">δ</text>
<g transform="translate(14.80,181.00) rotate(-90)">
<text x="0.35" y="0.00" font-size="11.5" fill="#1e1e1e" style="font-family:'Liberation Serif',serif;font-style:italic;">k</text>
<text x="6.31" y="2.30" font-size="8.3" fill="#1e1e1e" style="font-family:'Liberation Serif',serif;">1</text>
<text x="11.15" y="0.00" font-size="11.5" fill="#1e1e1e" style="font-family:'Liberation Serif',serif;font-style:italic;">E</text>
<text x="19.11" y="2.30" font-size="8.3" fill="#1e1e1e" style="font-family:'Liberation Serif',serif;">1</text>
<text x="23.11" y="2.30" font-size="8.3" fill="#1e1e1e" style="font-family:'Liberation Serif',serif;">1</text>
<text x="27.92" y="0.00" font-size="11.5" fill="#1e1e1e" style="font-family:'Liberation Serif',serif;">(</text>
<text x="31.60" y="0.00" font-size="11.5" fill="#1e1e1e" style="font-family:'Liberation Serif',serif;font-style:italic;">k</text>
<text x="37.71" y="2.30" font-size="8.3" fill="#1e1e1e" style="font-family:'Liberation Serif',serif;">1</text>
<text x="42.25" y="0.00" font-size="11.5" fill="#1e1e1e" style="font-family:'Liberation Serif',serif;">)</text>
<text x="47.30" y="0.00" font-size="11.5" fill="#1e1e1e" style="font-family:'Liberation Serif',serif;">/</text>
<text x="51.65" y="0.00" font-size="11.5" fill="#1e1e1e" style="font-family:'Liberation Serif',serif;font-style:italic;">u</text>
<text x="58.14" y="-6.40" font-size="7.6" fill="#1e1e1e" style="font-family:'Liberation Serif',serif;">2</text>
<text x="58.82" y="3.60" font-size="8.2" fill="#1e1e1e" style="font-family:'Liberation Serif',serif;font-style:italic;">τ</text>
</g>
<g transform="translate(15.20,511.30) rotate(-90)">
<text x="-0.39" y="0.00" font-size="11.5" fill="#1e1e1e" style="font-family:'Liberation Serif',serif;font-style:italic;">r</text>
<text x="5.31" y="3.00" font-size="8.3" fill="#1e1e1e" style="font-family:'Liberation Serif',serif;">1</text>
<text x="10.23" y="0.00" font-size="11.5" fill="#1e1e1e" style="font-family:'Liberation Serif',serif;font-style:italic;">V</text>
<text x="17.91" y="3.00" font-size="8.3" fill="#1e1e1e" style="font-family:'Liberation Serif',serif;">1</text>
<text x="21.91" y="3.00" font-size="8.3" fill="#1e1e1e" style="font-family:'Liberation Serif',serif;">1</text>
<text x="27.22" y="0.00" font-size="11.5" fill="#1e1e1e" style="font-family:'Liberation Serif',serif;">(</text>
<text x="31.01" y="0.00" font-size="11.5" fill="#1e1e1e" style="font-family:'Liberation Serif',serif;font-style:italic;">r</text>
<text x="35.61" y="3.00" font-size="8.3" fill="#1e1e1e" style="font-family:'Liberation Serif',serif;">1</text>
<text x="40.55" y="0.00" font-size="11.5" fill="#1e1e1e" style="font-family:'Liberation Serif',serif;">)</text>
<text x="45.50" y="0.00" font-size="11.5" fill="#1e1e1e" style="font-family:'Liberation Serif',serif;">/</text>
<text x="50.45" y="0.00" font-size="11.5" fill="#1e1e1e" style="font-family:'Liberation Serif',serif;font-style:italic;">u</text>
<text x="56.94" y="-6.00" font-size="7.6" fill="#1e1e1e" style="font-family:'Liberation Serif',serif;">2</text>
<text x="57.22" y="4.20" font-size="8.2" fill="#1e1e1e" style="font-family:'Liberation Serif',serif;font-style:italic;">τ</text>
</g>
</svg>
</body></html>
